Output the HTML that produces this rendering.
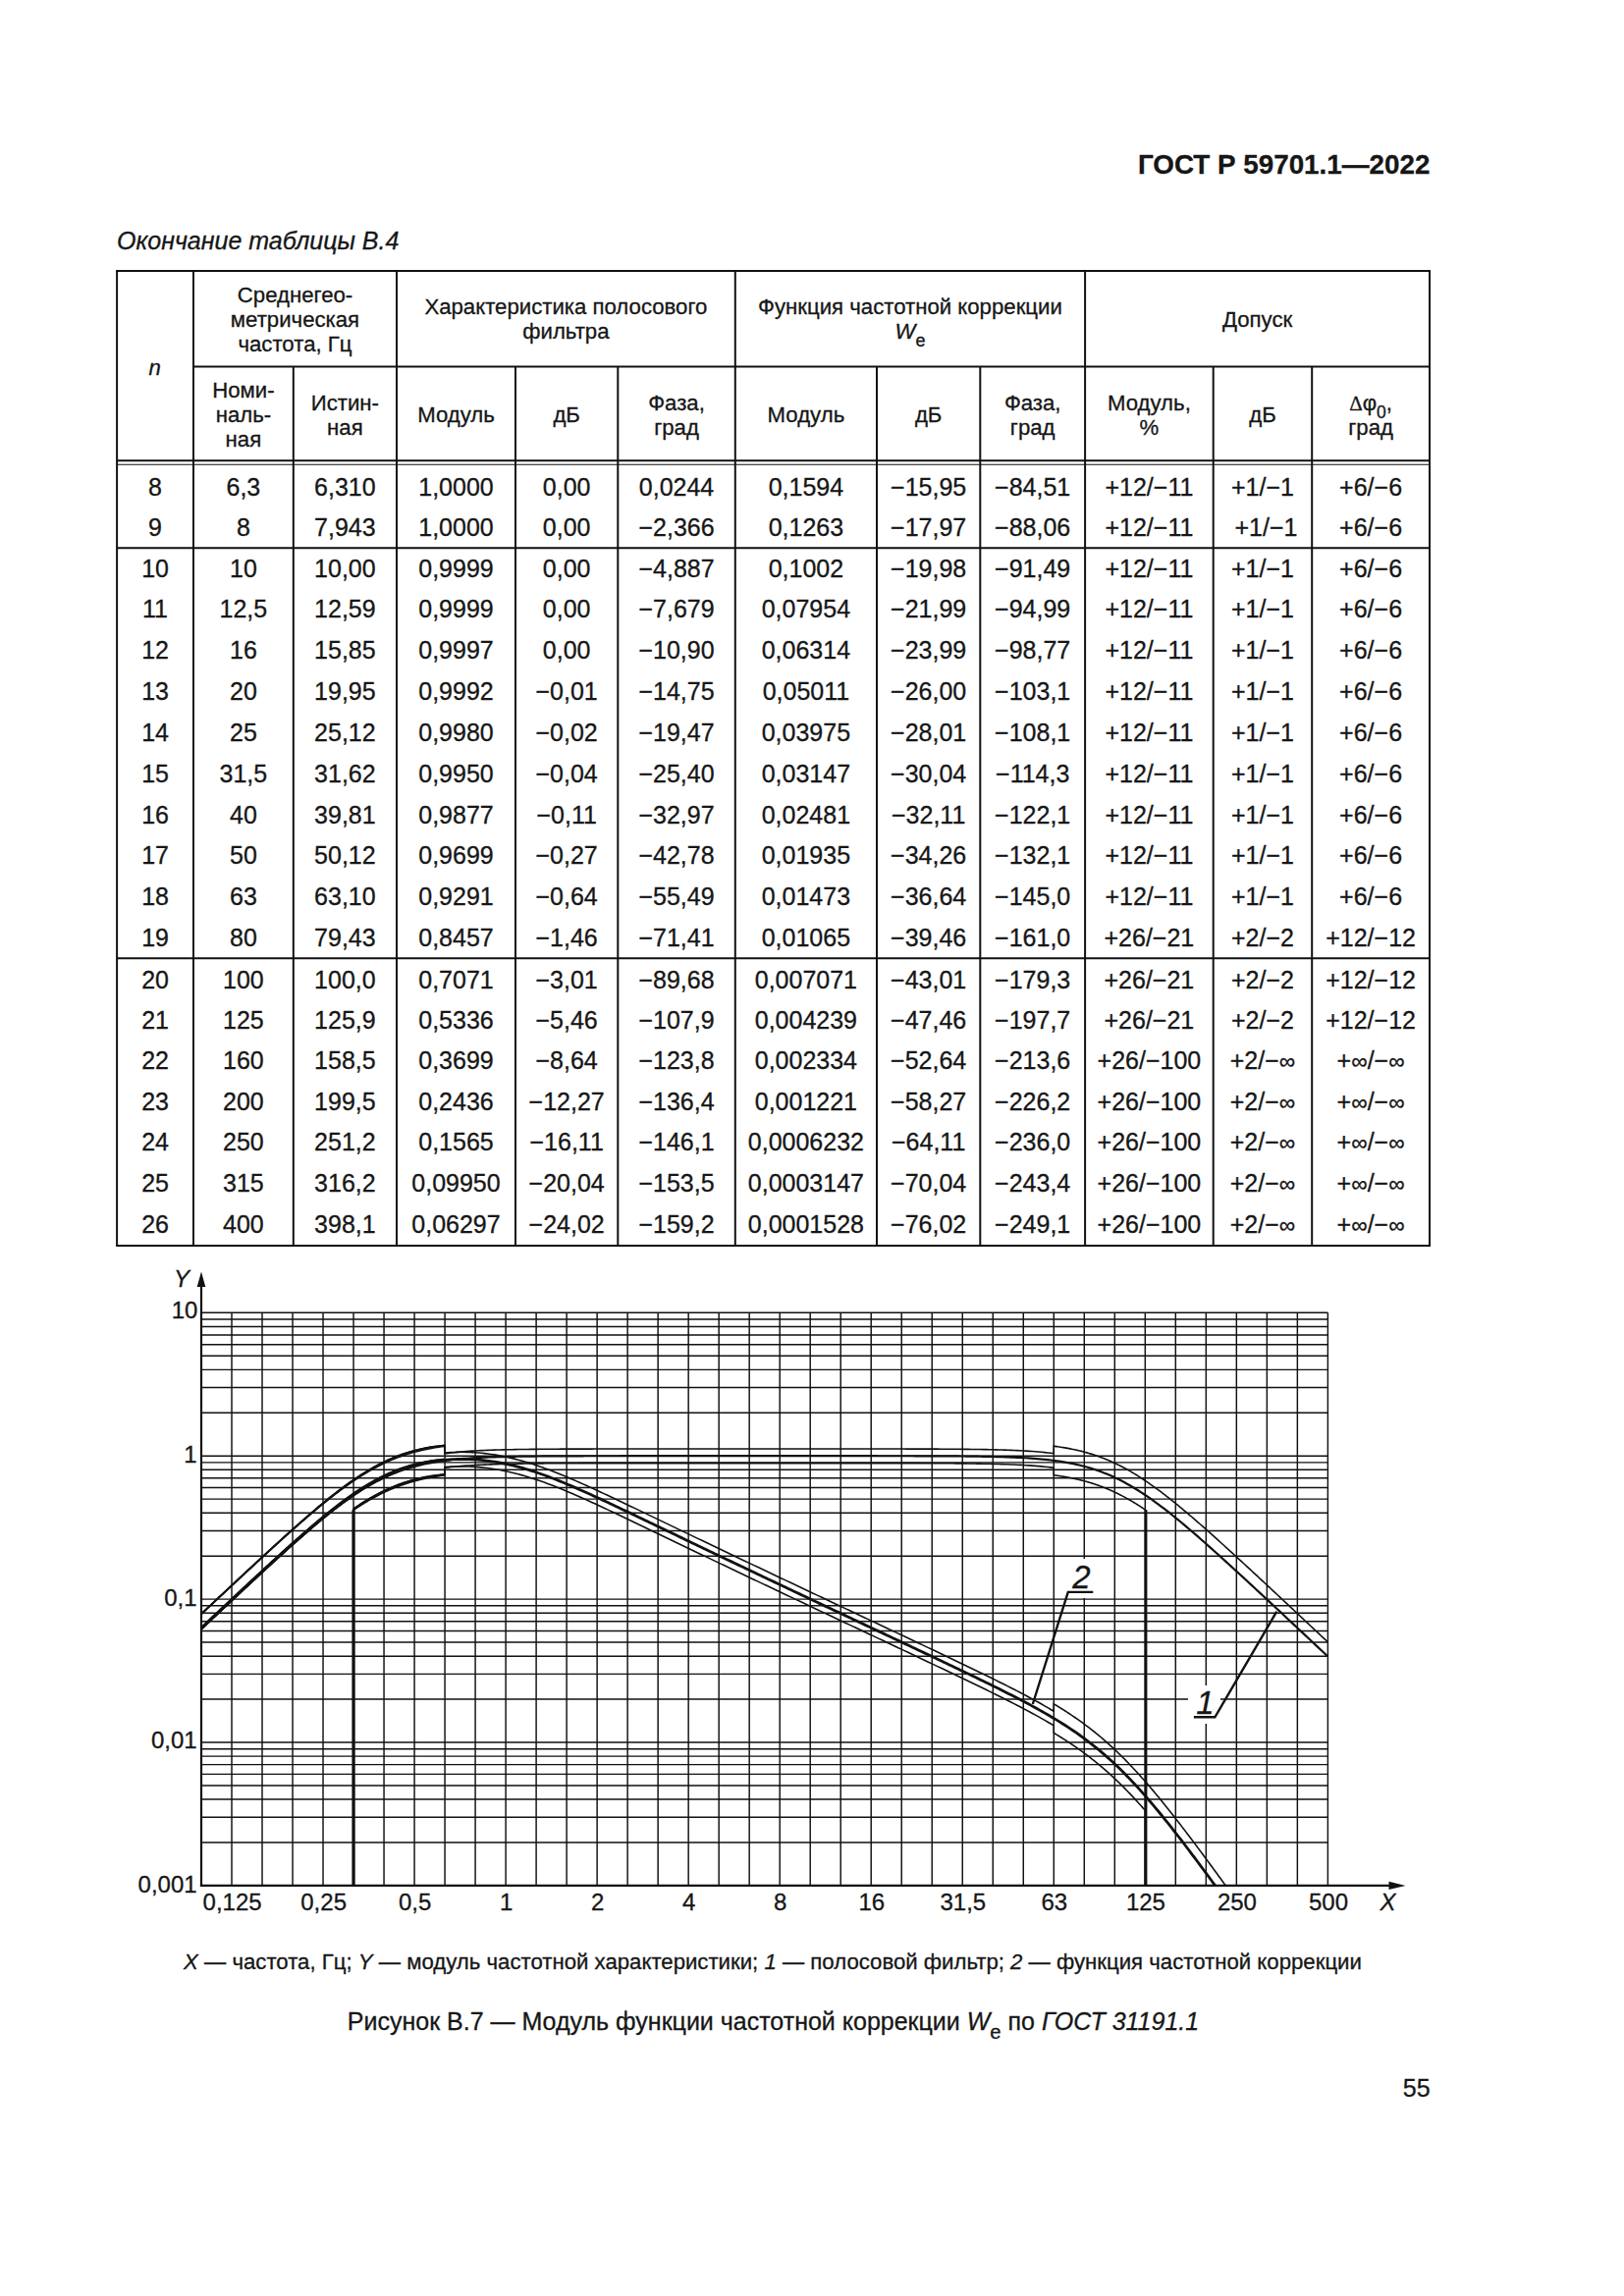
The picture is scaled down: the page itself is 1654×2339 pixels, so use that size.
<!DOCTYPE html>
<html lang="ru"><head><meta charset="utf-8"><title>ГОСТ Р 59701.1—2022</title>
<style>
html,body{margin:0;padding:0;background:#fff;}
body{width:1654px;height:2339px;overflow:hidden;position:relative;}
svg{position:absolute;left:0;top:0;display:block;}
text{font-family:'Liberation Sans', Arial, Helvetica, sans-serif;fill:#161616;stroke:#161616;stroke-width:0.3px;}
</style></head><body>
<svg width="1654" height="2339" viewBox="0 0 1654 2339">
<rect width="1654" height="2339" fill="#fff"/>
<g id="misc">
<text x="1456.40" y="177.40" font-size="27.8" text-anchor="end" font-weight="bold">ГОСТ Р 59701.1—2022</text>
<text x="119.00" y="253.60" font-size="25" text-anchor="start" font-style="italic">Окончание таблицы В.4</text>
<text x="787" y="2006.4" font-size="22.2" text-anchor="middle"><tspan font-style="italic">X</tspan> — частота, Гц; <tspan font-style="italic">Y</tspan> — модуль частотной характеристики; <tspan font-style="italic">1</tspan> — полосовой фильтр; <tspan font-style="italic">2</tspan> — функция частотной коррекции</text>
<text x="787.5" y="2068.2" font-size="25" text-anchor="middle">Рисунок В.7 — Модуль функции частотной коррекции <tspan font-style="italic">W</tspan><tspan font-size="20.3" dy="8.6">e</tspan><tspan dy="-8.6"> по </tspan><tspan font-style="italic">ГОСТ 31191.1</tspan></text>
<text x="1456.60" y="2136.40" font-size="25" text-anchor="end">55</text>
</g>
<g id="table-lines">
<line x1="118.10" y1="276.00" x2="1457.00" y2="276.00" stroke="#111" stroke-width="2.0"/>
<line x1="197.00" y1="373.60" x2="1456.00" y2="373.60" stroke="#111" stroke-width="2.0"/>
<line x1="119.10" y1="469.20" x2="1456.00" y2="469.20" stroke="#111" stroke-width="2.0"/>
<line x1="119.10" y1="473.20" x2="1456.00" y2="473.20" stroke="#111" stroke-width="1.1"/>
<line x1="119.10" y1="558.20" x2="1456.00" y2="558.20" stroke="#111" stroke-width="2.0"/>
<line x1="119.10" y1="976.30" x2="1456.00" y2="976.30" stroke="#111" stroke-width="2.0"/>
<line x1="118.10" y1="1269.00" x2="1457.00" y2="1269.00" stroke="#111" stroke-width="2.0"/>
<line x1="119.10" y1="276.00" x2="119.10" y2="1269.00" stroke="#111" stroke-width="2.0"/>
<line x1="197.00" y1="276.00" x2="197.00" y2="1269.00" stroke="#111" stroke-width="2.0"/>
<line x1="298.80" y1="373.60" x2="298.80" y2="1269.00" stroke="#111" stroke-width="2.0"/>
<line x1="404.00" y1="276.00" x2="404.00" y2="1269.00" stroke="#111" stroke-width="2.0"/>
<line x1="525.00" y1="373.60" x2="525.00" y2="1269.00" stroke="#111" stroke-width="2.0"/>
<line x1="629.30" y1="373.60" x2="629.30" y2="1269.00" stroke="#111" stroke-width="2.0"/>
<line x1="748.80" y1="276.00" x2="748.80" y2="1269.00" stroke="#111" stroke-width="2.0"/>
<line x1="893.00" y1="373.60" x2="893.00" y2="1269.00" stroke="#111" stroke-width="2.0"/>
<line x1="998.30" y1="373.60" x2="998.30" y2="1269.00" stroke="#111" stroke-width="2.0"/>
<line x1="1105.10" y1="276.00" x2="1105.10" y2="1269.00" stroke="#111" stroke-width="2.0"/>
<line x1="1235.70" y1="373.60" x2="1235.70" y2="1269.00" stroke="#111" stroke-width="2.0"/>
<line x1="1336.20" y1="373.60" x2="1336.20" y2="1269.00" stroke="#111" stroke-width="2.0"/>
<line x1="1456.00" y1="276.00" x2="1456.00" y2="1269.00" stroke="#111" stroke-width="2.0"/>
</g>
<g id="table-head">
<text x="157.55" y="381.60" font-size="22.2" text-anchor="middle" font-style="italic">n</text>
<text x="300.50" y="307.80" font-size="22.2" text-anchor="middle">Среднегео-</text>
<text x="300.50" y="332.80" font-size="22.2" text-anchor="middle">метрическая</text>
<text x="300.50" y="357.80" font-size="22.2" text-anchor="middle">частота, Гц</text>
<text x="576.40" y="320.40" font-size="22.2" text-anchor="middle">Характеристика полосового</text>
<text x="576.40" y="345.40" font-size="22.2" text-anchor="middle">фильтра</text>
<text x="926.95" y="320.40" font-size="22.2" text-anchor="middle">Функция частотной коррекции</text>
<text x="926.95" y="344.6" font-size="22.2" text-anchor="middle"><tspan font-style="italic">W</tspan><tspan font-size="18" dy="8.2">e</tspan></text>
<text x="1280.55" y="332.80" font-size="22.2" text-anchor="middle">Допуск</text>
<text x="247.90" y="404.60" font-size="22.2" text-anchor="middle">Номи-</text>
<text x="247.90" y="429.60" font-size="22.2" text-anchor="middle">наль-</text>
<text x="247.90" y="454.60" font-size="22.2" text-anchor="middle">ная</text>
<text x="351.40" y="417.60" font-size="22.2" text-anchor="middle">Истин-</text>
<text x="351.40" y="442.60" font-size="22.2" text-anchor="middle">ная</text>
<text x="464.50" y="430.00" font-size="22.2" text-anchor="middle">Модуль</text>
<text x="577.15" y="430.00" font-size="22.2" text-anchor="middle">дБ</text>
<text x="689.05" y="417.60" font-size="22.2" text-anchor="middle">Фаза,</text>
<text x="689.05" y="442.60" font-size="22.2" text-anchor="middle">град</text>
<text x="820.90" y="430.00" font-size="22.2" text-anchor="middle">Модуль</text>
<text x="945.65" y="430.00" font-size="22.2" text-anchor="middle">дБ</text>
<text x="1051.70" y="417.60" font-size="22.2" text-anchor="middle">Фаза,</text>
<text x="1051.70" y="442.60" font-size="22.2" text-anchor="middle">град</text>
<text x="1170.40" y="417.80" font-size="22.2" text-anchor="middle">Модуль,</text>
<text x="1170.40" y="443.20" font-size="22.2" text-anchor="middle">%</text>
<text x="1285.95" y="430.00" font-size="22.2" text-anchor="middle">дБ</text>
<text x="1396.10" y="417.8" font-size="22.2" text-anchor="middle"><tspan font-family="'Liberation Serif', 'DejaVu Serif', serif" font-size="21">Δ</tspan>φ<tspan font-size="17.5" dy="8">0</tspan><tspan dy="-8">,</tspan></text>
<text x="1396.10" y="443.00" font-size="22.2" text-anchor="middle">град</text>
</g>
<g id="table-body">
<text x="158.05" y="504.50" font-size="25" text-anchor="middle">8</text>
<text x="247.90" y="504.50" font-size="25" text-anchor="middle">6,3</text>
<text x="351.40" y="504.50" font-size="25" text-anchor="middle">6,310</text>
<text x="464.50" y="504.50" font-size="25" text-anchor="middle">1,0000</text>
<text x="577.15" y="504.50" font-size="25" text-anchor="middle">0,00</text>
<text x="689.05" y="504.50" font-size="25" text-anchor="middle">0,0244</text>
<text x="820.90" y="504.50" font-size="25" text-anchor="middle">0,1594</text>
<text x="945.65" y="504.50" font-size="25" text-anchor="middle">−15,95</text>
<text x="1051.70" y="504.50" font-size="25" text-anchor="middle">−84,51</text>
<text x="1170.40" y="504.50" font-size="25" text-anchor="middle">+12/−11</text>
<text x="1285.95" y="504.50" font-size="25" text-anchor="middle">+1/−1</text>
<text x="1396.10" y="504.50" font-size="25" text-anchor="middle">+6/−6</text>
<text x="158.05" y="546.17" font-size="25" text-anchor="middle">9</text>
<text x="247.90" y="546.17" font-size="25" text-anchor="middle">8</text>
<text x="351.40" y="546.17" font-size="25" text-anchor="middle">7,943</text>
<text x="464.50" y="546.17" font-size="25" text-anchor="middle">1,0000</text>
<text x="577.15" y="546.17" font-size="25" text-anchor="middle">0,00</text>
<text x="689.05" y="546.17" font-size="25" text-anchor="middle">−2,366</text>
<text x="820.90" y="546.17" font-size="25" text-anchor="middle">0,1263</text>
<text x="945.65" y="546.17" font-size="25" text-anchor="middle">−17,97</text>
<text x="1051.70" y="546.17" font-size="25" text-anchor="middle">−88,06</text>
<text x="1170.40" y="546.17" font-size="25" text-anchor="middle">+12/−11</text>
<text x="1289.45" y="546.17" font-size="25" text-anchor="middle">+1/−1</text>
<text x="1396.10" y="546.17" font-size="25" text-anchor="middle">+6/−6</text>
<text x="158.05" y="587.50" font-size="25" text-anchor="middle">10</text>
<text x="247.90" y="587.50" font-size="25" text-anchor="middle">10</text>
<text x="351.40" y="587.50" font-size="25" text-anchor="middle">10,00</text>
<text x="464.50" y="587.50" font-size="25" text-anchor="middle">0,9999</text>
<text x="577.15" y="587.50" font-size="25" text-anchor="middle">0,00</text>
<text x="689.05" y="587.50" font-size="25" text-anchor="middle">−4,887</text>
<text x="820.90" y="587.50" font-size="25" text-anchor="middle">0,1002</text>
<text x="945.65" y="587.50" font-size="25" text-anchor="middle">−19,98</text>
<text x="1051.70" y="587.50" font-size="25" text-anchor="middle">−91,49</text>
<text x="1170.40" y="587.50" font-size="25" text-anchor="middle">+12/−11</text>
<text x="1285.95" y="587.50" font-size="25" text-anchor="middle">+1/−1</text>
<text x="1396.10" y="587.50" font-size="25" text-anchor="middle">+6/−6</text>
<text x="158.05" y="629.17" font-size="25" text-anchor="middle">11</text>
<text x="247.90" y="629.17" font-size="25" text-anchor="middle">12,5</text>
<text x="351.40" y="629.17" font-size="25" text-anchor="middle">12,59</text>
<text x="464.50" y="629.17" font-size="25" text-anchor="middle">0,9999</text>
<text x="577.15" y="629.17" font-size="25" text-anchor="middle">0,00</text>
<text x="689.05" y="629.17" font-size="25" text-anchor="middle">−7,679</text>
<text x="820.90" y="629.17" font-size="25" text-anchor="middle">0,07954</text>
<text x="945.65" y="629.17" font-size="25" text-anchor="middle">−21,99</text>
<text x="1051.70" y="629.17" font-size="25" text-anchor="middle">−94,99</text>
<text x="1170.40" y="629.17" font-size="25" text-anchor="middle">+12/−11</text>
<text x="1285.95" y="629.17" font-size="25" text-anchor="middle">+1/−1</text>
<text x="1396.10" y="629.17" font-size="25" text-anchor="middle">+6/−6</text>
<text x="158.05" y="670.84" font-size="25" text-anchor="middle">12</text>
<text x="247.90" y="670.84" font-size="25" text-anchor="middle">16</text>
<text x="351.40" y="670.84" font-size="25" text-anchor="middle">15,85</text>
<text x="464.50" y="670.84" font-size="25" text-anchor="middle">0,9997</text>
<text x="577.15" y="670.84" font-size="25" text-anchor="middle">0,00</text>
<text x="689.05" y="670.84" font-size="25" text-anchor="middle">−10,90</text>
<text x="820.90" y="670.84" font-size="25" text-anchor="middle">0,06314</text>
<text x="945.65" y="670.84" font-size="25" text-anchor="middle">−23,99</text>
<text x="1051.70" y="670.84" font-size="25" text-anchor="middle">−98,77</text>
<text x="1170.40" y="670.84" font-size="25" text-anchor="middle">+12/−11</text>
<text x="1285.95" y="670.84" font-size="25" text-anchor="middle">+1/−1</text>
<text x="1396.10" y="670.84" font-size="25" text-anchor="middle">+6/−6</text>
<text x="158.05" y="712.71" font-size="25" text-anchor="middle">13</text>
<text x="247.90" y="712.71" font-size="25" text-anchor="middle">20</text>
<text x="351.40" y="712.71" font-size="25" text-anchor="middle">19,95</text>
<text x="464.50" y="712.71" font-size="25" text-anchor="middle">0,9992</text>
<text x="577.15" y="712.71" font-size="25" text-anchor="middle">−0,01</text>
<text x="689.05" y="712.71" font-size="25" text-anchor="middle">−14,75</text>
<text x="820.90" y="712.71" font-size="25" text-anchor="middle">0,05011</text>
<text x="945.65" y="712.71" font-size="25" text-anchor="middle">−26,00</text>
<text x="1051.70" y="712.71" font-size="25" text-anchor="middle">−103,1</text>
<text x="1170.40" y="712.71" font-size="25" text-anchor="middle">+12/−11</text>
<text x="1285.95" y="712.71" font-size="25" text-anchor="middle">+1/−1</text>
<text x="1396.10" y="712.71" font-size="25" text-anchor="middle">+6/−6</text>
<text x="158.05" y="755.18" font-size="25" text-anchor="middle">14</text>
<text x="247.90" y="755.18" font-size="25" text-anchor="middle">25</text>
<text x="351.40" y="755.18" font-size="25" text-anchor="middle">25,12</text>
<text x="464.50" y="755.18" font-size="25" text-anchor="middle">0,9980</text>
<text x="577.15" y="755.18" font-size="25" text-anchor="middle">−0,02</text>
<text x="689.05" y="755.18" font-size="25" text-anchor="middle">−19,47</text>
<text x="820.90" y="755.18" font-size="25" text-anchor="middle">0,03975</text>
<text x="945.65" y="755.18" font-size="25" text-anchor="middle">−28,01</text>
<text x="1051.70" y="755.18" font-size="25" text-anchor="middle">−108,1</text>
<text x="1170.40" y="755.18" font-size="25" text-anchor="middle">+12/−11</text>
<text x="1285.95" y="755.18" font-size="25" text-anchor="middle">+1/−1</text>
<text x="1396.10" y="755.18" font-size="25" text-anchor="middle">+6/−6</text>
<text x="158.05" y="796.85" font-size="25" text-anchor="middle">15</text>
<text x="247.90" y="796.85" font-size="25" text-anchor="middle">31,5</text>
<text x="351.40" y="796.85" font-size="25" text-anchor="middle">31,62</text>
<text x="464.50" y="796.85" font-size="25" text-anchor="middle">0,9950</text>
<text x="577.15" y="796.85" font-size="25" text-anchor="middle">−0,04</text>
<text x="689.05" y="796.85" font-size="25" text-anchor="middle">−25,40</text>
<text x="820.90" y="796.85" font-size="25" text-anchor="middle">0,03147</text>
<text x="945.65" y="796.85" font-size="25" text-anchor="middle">−30,04</text>
<text x="1051.70" y="796.85" font-size="25" text-anchor="middle">−114,3</text>
<text x="1170.40" y="796.85" font-size="25" text-anchor="middle">+12/−11</text>
<text x="1285.95" y="796.85" font-size="25" text-anchor="middle">+1/−1</text>
<text x="1396.10" y="796.85" font-size="25" text-anchor="middle">+6/−6</text>
<text x="158.05" y="838.52" font-size="25" text-anchor="middle">16</text>
<text x="247.90" y="838.52" font-size="25" text-anchor="middle">40</text>
<text x="351.40" y="838.52" font-size="25" text-anchor="middle">39,81</text>
<text x="464.50" y="838.52" font-size="25" text-anchor="middle">0,9877</text>
<text x="577.15" y="838.52" font-size="25" text-anchor="middle">−0,11</text>
<text x="689.05" y="838.52" font-size="25" text-anchor="middle">−32,97</text>
<text x="820.90" y="838.52" font-size="25" text-anchor="middle">0,02481</text>
<text x="945.65" y="838.52" font-size="25" text-anchor="middle">−32,11</text>
<text x="1051.70" y="838.52" font-size="25" text-anchor="middle">−122,1</text>
<text x="1170.40" y="838.52" font-size="25" text-anchor="middle">+12/−11</text>
<text x="1285.95" y="838.52" font-size="25" text-anchor="middle">+1/−1</text>
<text x="1396.10" y="838.52" font-size="25" text-anchor="middle">+6/−6</text>
<text x="158.05" y="880.19" font-size="25" text-anchor="middle">17</text>
<text x="247.90" y="880.19" font-size="25" text-anchor="middle">50</text>
<text x="351.40" y="880.19" font-size="25" text-anchor="middle">50,12</text>
<text x="464.50" y="880.19" font-size="25" text-anchor="middle">0,9699</text>
<text x="577.15" y="880.19" font-size="25" text-anchor="middle">−0,27</text>
<text x="689.05" y="880.19" font-size="25" text-anchor="middle">−42,78</text>
<text x="820.90" y="880.19" font-size="25" text-anchor="middle">0,01935</text>
<text x="945.65" y="880.19" font-size="25" text-anchor="middle">−34,26</text>
<text x="1051.70" y="880.19" font-size="25" text-anchor="middle">−132,1</text>
<text x="1170.40" y="880.19" font-size="25" text-anchor="middle">+12/−11</text>
<text x="1285.95" y="880.19" font-size="25" text-anchor="middle">+1/−1</text>
<text x="1396.10" y="880.19" font-size="25" text-anchor="middle">+6/−6</text>
<text x="158.05" y="921.86" font-size="25" text-anchor="middle">18</text>
<text x="247.90" y="921.86" font-size="25" text-anchor="middle">63</text>
<text x="351.40" y="921.86" font-size="25" text-anchor="middle">63,10</text>
<text x="464.50" y="921.86" font-size="25" text-anchor="middle">0,9291</text>
<text x="577.15" y="921.86" font-size="25" text-anchor="middle">−0,64</text>
<text x="689.05" y="921.86" font-size="25" text-anchor="middle">−55,49</text>
<text x="820.90" y="921.86" font-size="25" text-anchor="middle">0,01473</text>
<text x="945.65" y="921.86" font-size="25" text-anchor="middle">−36,64</text>
<text x="1051.70" y="921.86" font-size="25" text-anchor="middle">−145,0</text>
<text x="1170.40" y="921.86" font-size="25" text-anchor="middle">+12/−11</text>
<text x="1285.95" y="921.86" font-size="25" text-anchor="middle">+1/−1</text>
<text x="1396.10" y="921.86" font-size="25" text-anchor="middle">+6/−6</text>
<text x="158.05" y="963.53" font-size="25" text-anchor="middle">19</text>
<text x="247.90" y="963.53" font-size="25" text-anchor="middle">80</text>
<text x="351.40" y="963.53" font-size="25" text-anchor="middle">79,43</text>
<text x="464.50" y="963.53" font-size="25" text-anchor="middle">0,8457</text>
<text x="577.15" y="963.53" font-size="25" text-anchor="middle">−1,46</text>
<text x="689.05" y="963.53" font-size="25" text-anchor="middle">−71,41</text>
<text x="820.90" y="963.53" font-size="25" text-anchor="middle">0,01065</text>
<text x="945.65" y="963.53" font-size="25" text-anchor="middle">−39,46</text>
<text x="1051.70" y="963.53" font-size="25" text-anchor="middle">−161,0</text>
<text x="1170.40" y="963.53" font-size="25" text-anchor="middle">+26/−21</text>
<text x="1285.95" y="963.53" font-size="25" text-anchor="middle">+2/−2</text>
<text x="1396.10" y="963.53" font-size="25" text-anchor="middle">+12/−12</text>
<text x="158.05" y="1006.60" font-size="25" text-anchor="middle">20</text>
<text x="247.90" y="1006.60" font-size="25" text-anchor="middle">100</text>
<text x="351.40" y="1006.60" font-size="25" text-anchor="middle">100,0</text>
<text x="464.50" y="1006.60" font-size="25" text-anchor="middle">0,7071</text>
<text x="577.15" y="1006.60" font-size="25" text-anchor="middle">−3,01</text>
<text x="689.05" y="1006.60" font-size="25" text-anchor="middle">−89,68</text>
<text x="820.90" y="1006.60" font-size="25" text-anchor="middle">0,007071</text>
<text x="945.65" y="1006.60" font-size="25" text-anchor="middle">−43,01</text>
<text x="1051.70" y="1006.60" font-size="25" text-anchor="middle">−179,3</text>
<text x="1170.40" y="1006.60" font-size="25" text-anchor="middle">+26/−21</text>
<text x="1285.95" y="1006.60" font-size="25" text-anchor="middle">+2/−2</text>
<text x="1396.10" y="1006.60" font-size="25" text-anchor="middle">+12/−12</text>
<text x="158.05" y="1048.27" font-size="25" text-anchor="middle">21</text>
<text x="247.90" y="1048.27" font-size="25" text-anchor="middle">125</text>
<text x="351.40" y="1048.27" font-size="25" text-anchor="middle">125,9</text>
<text x="464.50" y="1048.27" font-size="25" text-anchor="middle">0,5336</text>
<text x="577.15" y="1048.27" font-size="25" text-anchor="middle">−5,46</text>
<text x="689.05" y="1048.27" font-size="25" text-anchor="middle">−107,9</text>
<text x="820.90" y="1048.27" font-size="25" text-anchor="middle">0,004239</text>
<text x="945.65" y="1048.27" font-size="25" text-anchor="middle">−47,46</text>
<text x="1051.70" y="1048.27" font-size="25" text-anchor="middle">−197,7</text>
<text x="1170.40" y="1048.27" font-size="25" text-anchor="middle">+26/−21</text>
<text x="1285.95" y="1048.27" font-size="25" text-anchor="middle">+2/−2</text>
<text x="1396.10" y="1048.27" font-size="25" text-anchor="middle">+12/−12</text>
<text x="158.05" y="1089.14" font-size="25" text-anchor="middle">22</text>
<text x="247.90" y="1089.14" font-size="25" text-anchor="middle">160</text>
<text x="351.40" y="1089.14" font-size="25" text-anchor="middle">158,5</text>
<text x="464.50" y="1089.14" font-size="25" text-anchor="middle">0,3699</text>
<text x="577.15" y="1089.14" font-size="25" text-anchor="middle">−8,64</text>
<text x="689.05" y="1089.14" font-size="25" text-anchor="middle">−123,8</text>
<text x="820.90" y="1089.14" font-size="25" text-anchor="middle">0,002334</text>
<text x="945.65" y="1089.14" font-size="25" text-anchor="middle">−52,64</text>
<text x="1051.70" y="1089.14" font-size="25" text-anchor="middle">−213,6</text>
<text x="1170.40" y="1089.14" font-size="25" text-anchor="middle">+26/−100</text>
<text x="1285.95" y="1089.14" font-size="25" text-anchor="middle">+2/−<tspan font-size="23">∞</tspan></text>
<text x="1396.10" y="1089.14" font-size="25" text-anchor="middle">+<tspan font-size="23">∞</tspan>/−<tspan font-size="23">∞</tspan></text>
<text x="158.05" y="1130.81" font-size="25" text-anchor="middle">23</text>
<text x="247.90" y="1130.81" font-size="25" text-anchor="middle">200</text>
<text x="351.40" y="1130.81" font-size="25" text-anchor="middle">199,5</text>
<text x="464.50" y="1130.81" font-size="25" text-anchor="middle">0,2436</text>
<text x="577.15" y="1130.81" font-size="25" text-anchor="middle">−12,27</text>
<text x="689.05" y="1130.81" font-size="25" text-anchor="middle">−136,4</text>
<text x="820.90" y="1130.81" font-size="25" text-anchor="middle">0,001221</text>
<text x="945.65" y="1130.81" font-size="25" text-anchor="middle">−58,27</text>
<text x="1051.70" y="1130.81" font-size="25" text-anchor="middle">−226,2</text>
<text x="1170.40" y="1130.81" font-size="25" text-anchor="middle">+26/−100</text>
<text x="1285.95" y="1130.81" font-size="25" text-anchor="middle">+2/−<tspan font-size="23">∞</tspan></text>
<text x="1396.10" y="1130.81" font-size="25" text-anchor="middle">+<tspan font-size="23">∞</tspan>/−<tspan font-size="23">∞</tspan></text>
<text x="158.05" y="1172.48" font-size="25" text-anchor="middle">24</text>
<text x="247.90" y="1172.48" font-size="25" text-anchor="middle">250</text>
<text x="351.40" y="1172.48" font-size="25" text-anchor="middle">251,2</text>
<text x="464.50" y="1172.48" font-size="25" text-anchor="middle">0,1565</text>
<text x="577.15" y="1172.48" font-size="25" text-anchor="middle">−16,11</text>
<text x="689.05" y="1172.48" font-size="25" text-anchor="middle">−146,1</text>
<text x="820.90" y="1172.48" font-size="25" text-anchor="middle">0,0006232</text>
<text x="945.65" y="1172.48" font-size="25" text-anchor="middle">−64,11</text>
<text x="1051.70" y="1172.48" font-size="25" text-anchor="middle">−236,0</text>
<text x="1170.40" y="1172.48" font-size="25" text-anchor="middle">+26/−100</text>
<text x="1285.95" y="1172.48" font-size="25" text-anchor="middle">+2/−<tspan font-size="23">∞</tspan></text>
<text x="1396.10" y="1172.48" font-size="25" text-anchor="middle">+<tspan font-size="23">∞</tspan>/−<tspan font-size="23">∞</tspan></text>
<text x="158.05" y="1214.15" font-size="25" text-anchor="middle">25</text>
<text x="247.90" y="1214.15" font-size="25" text-anchor="middle">315</text>
<text x="351.40" y="1214.15" font-size="25" text-anchor="middle">316,2</text>
<text x="464.50" y="1214.15" font-size="25" text-anchor="middle">0,09950</text>
<text x="577.15" y="1214.15" font-size="25" text-anchor="middle">−20,04</text>
<text x="689.05" y="1214.15" font-size="25" text-anchor="middle">−153,5</text>
<text x="820.90" y="1214.15" font-size="25" text-anchor="middle">0,0003147</text>
<text x="945.65" y="1214.15" font-size="25" text-anchor="middle">−70,04</text>
<text x="1051.70" y="1214.15" font-size="25" text-anchor="middle">−243,4</text>
<text x="1170.40" y="1214.15" font-size="25" text-anchor="middle">+26/−100</text>
<text x="1285.95" y="1214.15" font-size="25" text-anchor="middle">+2/−<tspan font-size="23">∞</tspan></text>
<text x="1396.10" y="1214.15" font-size="25" text-anchor="middle">+<tspan font-size="23">∞</tspan>/−<tspan font-size="23">∞</tspan></text>
<text x="158.05" y="1255.82" font-size="25" text-anchor="middle">26</text>
<text x="247.90" y="1255.82" font-size="25" text-anchor="middle">400</text>
<text x="351.40" y="1255.82" font-size="25" text-anchor="middle">398,1</text>
<text x="464.50" y="1255.82" font-size="25" text-anchor="middle">0,06297</text>
<text x="577.15" y="1255.82" font-size="25" text-anchor="middle">−24,02</text>
<text x="689.05" y="1255.82" font-size="25" text-anchor="middle">−159,2</text>
<text x="820.90" y="1255.82" font-size="25" text-anchor="middle">0,0001528</text>
<text x="945.65" y="1255.82" font-size="25" text-anchor="middle">−76,02</text>
<text x="1051.70" y="1255.82" font-size="25" text-anchor="middle">−249,1</text>
<text x="1170.40" y="1255.82" font-size="25" text-anchor="middle">+26/−100</text>
<text x="1285.95" y="1255.82" font-size="25" text-anchor="middle">+2/−<tspan font-size="23">∞</tspan></text>
<text x="1396.10" y="1255.82" font-size="25" text-anchor="middle">+<tspan font-size="23">∞</tspan>/−<tspan font-size="23">∞</tspan></text>
</g>
<g id="chart">
<path d="M236.01 1337.30V1920.90M267.02 1337.30V1920.90M298.03 1337.30V1920.90M329.04 1337.30V1920.90M360.05 1337.30V1920.90M391.06 1337.30V1920.90M422.07 1337.30V1920.90M453.08 1337.30V1920.90M484.09 1337.30V1920.90M515.10 1337.30V1920.90M546.11 1337.30V1920.90M577.12 1337.30V1920.90M608.13 1337.30V1920.90M639.14 1337.30V1920.90M670.15 1337.30V1920.90M701.16 1337.30V1920.90M732.17 1337.30V1920.90M763.18 1337.30V1920.90M794.19 1337.30V1920.90M825.20 1337.30V1920.90M856.21 1337.30V1920.90M887.22 1337.30V1920.90M918.23 1337.30V1920.90M949.24 1337.30V1920.90M980.25 1337.30V1920.90M1011.26 1337.30V1920.90M1042.27 1337.30V1920.90M1073.28 1337.30V1920.90M1104.29 1337.30V1920.90M1135.30 1337.30V1920.90M1166.31 1337.30V1920.90M1197.32 1337.30V1920.90M1228.33 1337.30V1920.90M1259.34 1337.30V1920.90M1290.35 1337.30V1920.90M1321.36 1337.30V1920.90M1352.37 1337.30V1920.90M205.00 1876.98H1352.37M205.00 1851.29H1352.37M205.00 1833.06H1352.37M205.00 1818.92H1352.37M205.00 1807.37H1352.37M205.00 1797.60H1352.37M205.00 1789.14H1352.37M205.00 1781.68H1352.37M205.00 1775.00H1352.37M205.00 1731.08H1352.37M205.00 1705.39H1352.37M205.00 1687.16H1352.37M205.00 1673.02H1352.37M205.00 1661.47H1352.37M205.00 1651.70H1352.37M205.00 1643.24H1352.37M205.00 1635.78H1352.37M205.00 1629.10H1352.37M205.00 1585.18H1352.37M205.00 1559.49H1352.37M205.00 1541.26H1352.37M205.00 1527.12H1352.37M205.00 1515.57H1352.37M205.00 1505.80H1352.37M205.00 1497.34H1352.37M205.00 1489.88H1352.37M205.00 1483.20H1352.37M205.00 1439.28H1352.37M205.00 1413.59H1352.37M205.00 1395.36H1352.37M205.00 1381.22H1352.37M205.00 1369.67H1352.37M205.00 1359.90H1352.37M205.00 1351.44H1352.37M205.00 1343.98H1352.37M205.00 1337.30H1352.37" stroke="#111" stroke-width="1.45" fill="none"/>
<line x1="205.00" y1="1308.00" x2="205.00" y2="1922.00" stroke="#111" stroke-width="2.2"/>
<line x1="203.90" y1="1920.90" x2="1416.00" y2="1920.90" stroke="#111" stroke-width="2.4"/>
<path d="M205.00 1295.5L200.70 1311L209.30 1311Z" fill="#111"/>
<path d="M1431.5 1920.90L1414.5 1916.80L1414.5 1925.00Z" fill="#111"/>
<clipPath id="cp"><rect x="203.0" y="1335.3" width="1151.3700000000001" height="585.6000000000001"/></clipPath>
<g clip-path="url(#cp)"><polyline points="205.00,1659.00 207.87,1656.31 210.75,1653.62 213.62,1650.93 216.50,1648.23 219.37,1645.54 222.25,1642.86 225.12,1640.17 228.00,1637.48 230.87,1634.80 233.75,1632.12 236.62,1629.44 239.50,1626.76 242.37,1624.09 245.25,1621.42 248.12,1618.75 251.00,1616.08 253.87,1613.42 256.75,1610.76 259.62,1608.10 262.50,1605.45 265.37,1602.81 268.25,1600.17 271.12,1597.53 274.00,1594.90 276.87,1592.28 279.75,1589.67 282.62,1587.06 285.49,1584.46 288.37,1581.87 291.24,1579.29 294.12,1576.72 296.99,1574.16 299.87,1571.62 302.74,1569.09 305.62,1566.57 308.49,1564.06 311.37,1561.58 314.24,1559.11 317.12,1556.66 319.99,1554.23 322.87,1551.83 325.74,1549.44 328.62,1547.09 331.49,1544.75 334.37,1542.45 337.24,1540.18 340.12,1537.94 342.99,1535.73 345.87,1533.56 348.74,1531.42 351.62,1529.33 354.49,1527.28 357.37,1525.27 360.24,1523.30 363.11,1521.38 365.99,1519.51 368.86,1517.69 371.74,1515.92 374.61,1514.21 377.49,1512.55 380.36,1510.94 383.24,1509.39 386.11,1507.90 388.99,1506.46 391.86,1505.08 394.74,1503.76 397.61,1502.50 400.49,1501.29 403.36,1500.15 406.24,1499.05 409.11,1498.02 411.99,1497.03 414.86,1496.10 417.74,1495.22 420.61,1494.39 423.49,1493.61 426.36,1492.88 429.24,1492.19 432.11,1491.54 434.99,1490.93 437.86,1490.37 440.73,1489.84 443.61,1489.34 446.48,1488.88 449.36,1488.45 452.23,1488.06 455.11,1487.69 457.98,1487.34 460.86,1487.02 463.73,1486.73 466.61,1486.45 469.48,1486.20 472.36,1485.96 475.23,1485.75 478.11,1485.54 480.98,1485.36 483.86,1485.19 486.73,1485.03 489.61,1484.88 492.48,1484.75 495.36,1484.63 498.23,1484.51 501.11,1484.41 503.98,1484.31 506.86,1484.22 509.73,1484.14 512.61,1484.06 515.48,1483.99 518.35,1483.93 521.23,1483.87 524.10,1483.81 526.98,1483.76 529.85,1483.72 532.73,1483.68 535.60,1483.64 538.48,1483.60 541.35,1483.57 544.23,1483.54 547.10,1483.51 549.98,1483.49 552.85,1483.46 555.73,1483.44 558.60,1483.42 561.48,1483.40 564.35,1483.39 567.23,1483.37 570.10,1483.36 572.98,1483.35 575.85,1483.33 578.73,1483.32 581.60,1483.31 584.48,1483.30 587.35,1483.29 590.23,1483.29 593.10,1483.28 595.97,1483.27 598.85,1483.27 601.72,1483.26 604.60,1483.26 607.47,1483.25 610.35,1483.25 613.22,1483.24 616.10,1483.24 618.97,1483.24 621.85,1483.23 624.72,1483.23 627.60,1483.23 630.47,1483.23 633.35,1483.22 636.22,1483.22 639.10,1483.22 641.97,1483.22 644.85,1483.22 647.72,1483.22 650.60,1483.21 653.47,1483.21 656.35,1483.21 659.22,1483.21 662.10,1483.21 664.97,1483.21 667.84,1483.21 670.72,1483.21 673.59,1483.21 676.47,1483.21 679.34,1483.21 682.22,1483.21 685.09,1483.21 687.97,1483.20 690.84,1483.20 693.72,1483.20 696.59,1483.20 699.47,1483.20 702.34,1483.20 705.22,1483.20 708.09,1483.20 710.97,1483.20 713.84,1483.20 716.72,1483.20 719.59,1483.20 722.47,1483.20 725.34,1483.20 728.22,1483.20 731.09,1483.20 733.97,1483.20 736.84,1483.20 739.72,1483.20 742.59,1483.20 745.46,1483.20 748.34,1483.20 751.21,1483.20 754.09,1483.20 756.96,1483.20 759.84,1483.20 762.71,1483.20 765.59,1483.20 768.46,1483.20 771.34,1483.20 774.21,1483.20 777.09,1483.20 779.96,1483.20 782.84,1483.20 785.71,1483.20 788.59,1483.20 791.46,1483.20 794.34,1483.20 797.21,1483.20 800.09,1483.20 802.96,1483.20 805.84,1483.20 808.71,1483.20 811.59,1483.20 814.46,1483.20 817.34,1483.20 820.21,1483.20 823.08,1483.20 825.96,1483.20 828.83,1483.20 831.71,1483.20 834.58,1483.20 837.46,1483.20 840.33,1483.21 843.21,1483.21 846.08,1483.21 848.96,1483.21 851.83,1483.21 854.71,1483.21 857.58,1483.21 860.46,1483.21 863.33,1483.21 866.21,1483.21 869.08,1483.21 871.96,1483.21 874.83,1483.21 877.71,1483.22 880.58,1483.22 883.46,1483.22 886.33,1483.22 889.21,1483.22 892.08,1483.22 894.96,1483.23 897.83,1483.23 900.70,1483.23 903.58,1483.23 906.45,1483.24 909.33,1483.24 912.20,1483.24 915.08,1483.25 917.95,1483.25 920.83,1483.25 923.70,1483.26 926.58,1483.26 929.45,1483.27 932.33,1483.28 935.20,1483.28 938.08,1483.29 940.95,1483.30 943.83,1483.31 946.70,1483.32 949.58,1483.33 952.45,1483.34 955.33,1483.35 958.20,1483.36 961.08,1483.38 963.95,1483.39 966.83,1483.41 969.70,1483.43 972.58,1483.45 975.45,1483.47 978.32,1483.50 981.20,1483.52 984.07,1483.55 986.95,1483.58 989.82,1483.62 992.70,1483.66 995.57,1483.70 998.45,1483.74 1001.32,1483.79 1004.20,1483.84 1007.07,1483.90 1009.95,1483.96 1012.82,1484.02 1015.70,1484.10 1018.57,1484.17 1021.45,1484.26 1024.32,1484.35 1027.20,1484.45 1030.07,1484.56 1032.95,1484.68 1035.82,1484.81 1038.70,1484.95 1041.57,1485.10 1044.45,1485.26 1047.32,1485.44 1050.20,1485.63 1053.07,1485.84 1055.94,1486.07 1058.82,1486.31 1061.69,1486.57 1064.57,1486.86 1067.44,1487.16 1070.32,1487.49 1073.19,1487.85 1076.07,1488.23 1078.94,1488.65 1081.82,1489.09 1084.69,1489.56 1087.57,1490.07 1090.44,1490.62 1093.32,1491.20 1096.19,1491.83 1099.07,1492.49 1101.94,1493.20 1104.82,1493.96 1107.69,1494.76 1110.57,1495.61 1113.44,1496.52 1116.32,1497.47 1119.19,1498.48 1122.07,1499.54 1124.94,1500.66 1127.82,1501.83 1130.69,1503.07 1133.56,1504.35 1136.44,1505.70 1139.31,1507.11 1142.19,1508.57 1145.06,1510.09 1147.94,1511.66 1150.81,1513.29 1153.69,1514.98 1156.56,1516.72 1159.44,1518.51 1162.31,1520.35 1165.19,1522.25 1168.06,1524.19 1170.94,1526.17 1173.81,1528.20 1176.69,1530.27 1179.56,1532.39 1182.44,1534.54 1185.31,1536.73 1188.19,1538.95 1191.06,1541.20 1193.94,1543.49 1196.81,1545.81 1199.69,1548.15 1202.56,1550.52 1205.44,1552.91 1208.31,1555.33 1211.18,1557.77 1214.06,1560.23 1216.93,1562.70 1219.81,1565.20 1222.68,1567.71 1225.56,1570.23 1228.43,1572.77 1231.31,1575.32 1234.18,1577.88 1237.06,1580.46 1239.93,1583.04 1242.81,1585.64 1245.68,1588.24 1248.56,1590.85 1251.43,1593.47 1254.31,1596.09 1257.18,1598.73 1260.06,1601.36 1262.93,1604.01 1265.81,1606.65 1268.68,1609.31 1271.56,1611.96 1274.43,1614.62 1277.31,1617.29 1280.18,1619.96 1283.06,1622.63 1285.93,1625.30 1288.80,1627.98 1291.68,1630.65 1294.55,1633.33 1297.43,1636.02 1300.30,1638.70 1303.18,1641.39 1306.05,1644.07 1308.93,1646.76 1311.80,1649.45 1314.68,1652.15 1317.55,1654.84 1320.43,1657.53 1323.30,1660.23 1326.18,1662.92 1329.05,1665.62 1331.93,1668.32 1334.80,1671.01 1337.68,1673.71 1340.55,1676.41 1343.43,1679.11 1346.30,1681.81 1349.18,1684.51 1352.05,1687.21" fill="none" stroke="#111" stroke-width="2.2" stroke-linejoin="round"/><polyline points="205.00,1644.36 206.25,1643.19 207.49,1642.02 208.74,1640.86 209.99,1639.69 211.23,1638.52 212.48,1637.35 213.73,1636.19 214.97,1635.02 216.22,1633.85 217.47,1632.69 218.71,1631.52 219.96,1630.35 221.21,1629.19 222.45,1628.02 223.70,1626.86 224.95,1625.69 226.19,1624.53 227.44,1623.36 228.69,1622.20 229.93,1621.03 231.18,1619.87 232.43,1618.71 233.67,1617.55 234.92,1616.38 236.17,1615.22 237.41,1614.06 238.66,1612.90 239.91,1611.74 241.15,1610.58 242.40,1609.42 243.65,1608.26 244.89,1607.10 246.14,1605.94 247.39,1604.79 248.63,1603.63 249.88,1602.47 251.13,1601.32 252.37,1600.16 253.62,1599.01 254.87,1597.85 256.11,1596.70 257.36,1595.55 258.61,1594.40 259.85,1593.25 261.10,1592.10 262.35,1590.95 263.59,1589.80 264.84,1588.65 266.09,1587.51 267.33,1586.36 268.58,1585.22 269.82,1584.08 271.07,1582.93 272.32,1581.79 273.56,1580.65 274.81,1579.51 276.06,1578.38 277.30,1577.24 278.55,1576.11 279.80,1574.97 281.04,1573.84 282.29,1572.71 283.54,1571.58 284.78,1570.46 286.03,1569.33 287.28,1568.21 288.52,1567.09 289.77,1565.97 291.02,1564.85 292.26,1563.73 293.51,1562.62 294.76,1561.51 296.00,1560.40 297.25,1559.29 298.50,1558.19 299.74,1557.08 300.99,1555.98 302.24,1554.89 303.48,1553.79 304.73,1552.70 305.98,1551.61 307.22,1550.52 308.47,1549.44 309.72,1548.36 310.96,1547.28 312.21,1546.21 313.46,1545.14 314.70,1544.07 315.95,1543.01 317.20,1541.95 318.44,1540.89 319.69,1539.84 320.94,1538.80 322.18,1537.75 323.43,1536.71 324.68,1535.68 325.92,1534.65 327.17,1533.62 328.42,1532.60 329.66,1531.59 330.91,1530.58 332.16,1529.57 333.40,1528.58 334.65,1527.58 335.90,1526.59 337.14,1525.61 338.39,1524.63 339.64,1523.66 340.88,1522.70 342.13,1521.74 343.38,1520.79 344.62,1519.85 345.87,1518.91 347.12,1517.98 348.36,1517.06 349.61,1516.14 350.86,1515.23 352.10,1514.33 353.35,1513.44 354.60,1512.56 355.84,1511.68 357.09,1510.81 358.34,1509.95 359.58,1509.10 360.83,1508.26 362.08,1507.43 363.32,1506.60 364.57,1505.79 365.82,1504.98 367.06,1504.18 368.31,1503.39 369.56,1502.62 370.80,1501.85 372.05,1501.09 373.30,1500.34 374.54,1499.61 375.79,1498.88 377.04,1498.16 378.28,1497.45 379.53,1496.76 380.78,1496.07 382.02,1495.40 383.27,1494.73 384.52,1494.08 385.76,1493.43 387.01,1492.80 388.26,1492.18 389.50,1491.57 390.75,1490.97 391.99,1490.38 393.24,1489.80 394.49,1489.23 395.73,1488.67 396.98,1488.13 398.23,1487.59 399.47,1487.07 400.72,1486.55 401.97,1486.05 403.21,1485.56 404.46,1485.08 405.71,1484.61 406.95,1484.14 408.20,1483.69 409.45,1483.25 410.69,1482.82 411.94,1482.40 413.19,1481.99 414.43,1481.59 415.68,1481.20 416.93,1480.82 418.17,1480.45 419.42,1480.09 420.67,1479.73 421.91,1479.39 423.16,1479.05 424.41,1478.73 425.65,1478.41 426.90,1478.10 428.15,1477.80 429.39,1477.51 430.64,1477.22 431.89,1476.94 433.13,1476.67 434.38,1476.41 435.63,1476.16 436.87,1475.91 438.12,1475.67 439.37,1475.44 440.61,1475.22 441.86,1475.00 443.11,1474.78 444.35,1474.58 445.60,1474.38 446.85,1474.18 448.09,1474.00 449.34,1473.81 450.59,1473.64 451.83,1473.47 453.08,1473.30 453.08,1480.76 456.20,1480.37 459.31,1480.01 462.43,1479.68 465.55,1479.37 468.66,1479.09 471.78,1478.83 474.90,1478.59 478.01,1478.37 481.13,1478.17 484.25,1477.98 487.36,1477.82 490.48,1477.66 493.60,1477.52 496.71,1477.39 499.83,1477.27 502.95,1477.16 506.06,1477.06 509.18,1476.97 512.30,1476.89 515.41,1476.81 518.53,1476.74 521.64,1476.68 524.76,1476.62 527.88,1476.57 530.99,1476.52 534.11,1476.48 537.23,1476.44 540.34,1476.40 543.46,1476.37 546.58,1476.34 549.69,1476.31 552.81,1476.28 555.93,1476.26 559.04,1476.24 562.16,1476.22 565.28,1476.20 568.39,1476.19 571.51,1476.17 574.63,1476.16 577.74,1476.15 580.86,1476.13 583.98,1476.12 587.09,1476.11 590.21,1476.11 593.33,1476.10 596.44,1476.09 599.56,1476.09 602.68,1476.08 605.79,1476.07 608.91,1476.07 612.03,1476.06 615.14,1476.06 618.26,1476.06 621.38,1476.05 624.49,1476.05 627.61,1476.05 630.73,1476.05 633.84,1476.04 636.96,1476.04 640.07,1476.04 643.19,1476.04 646.31,1476.04 649.42,1476.03 652.54,1476.03 655.66,1476.03 658.77,1476.03 661.89,1476.03 665.01,1476.03 668.12,1476.03 671.24,1476.03 674.36,1476.03 677.47,1476.03 680.59,1476.03 683.71,1476.02 686.82,1476.02 689.94,1476.02 693.06,1476.02 696.17,1476.02 699.29,1476.02 702.41,1476.02 705.52,1476.02 708.64,1476.02 711.76,1476.02 714.87,1476.02 717.99,1476.02 721.11,1476.02 724.22,1476.02 727.34,1476.02 730.46,1476.02 733.57,1476.02 736.69,1476.02 739.81,1476.02 742.92,1476.02 746.04,1476.02 749.16,1476.02 752.27,1476.02 755.39,1476.02 758.51,1476.02 761.62,1476.02 764.74,1476.02 767.85,1476.02 770.97,1476.02 774.09,1476.02 777.20,1476.02 780.32,1476.02 783.44,1476.02 786.55,1476.02 789.67,1476.02 792.79,1476.02 795.90,1476.02 799.02,1476.02 802.14,1476.02 805.25,1476.02 808.37,1476.02 811.49,1476.02 814.60,1476.02 817.72,1476.02 820.84,1476.02 823.95,1476.02 827.07,1476.02 830.19,1476.02 833.30,1476.02 836.42,1476.02 839.54,1476.02 842.65,1476.02 845.77,1476.02 848.89,1476.03 852.00,1476.03 855.12,1476.03 858.24,1476.03 861.35,1476.03 864.47,1476.03 867.59,1476.03 870.70,1476.03 873.82,1476.03 876.94,1476.03 880.05,1476.04 883.17,1476.04 886.29,1476.04 889.40,1476.04 892.52,1476.04 895.63,1476.04 898.75,1476.05 901.87,1476.05 904.98,1476.05 908.10,1476.06 911.22,1476.06 914.33,1476.06 917.45,1476.07 920.57,1476.07 923.68,1476.08 926.80,1476.08 929.92,1476.09 933.03,1476.10 936.15,1476.10 939.27,1476.11 942.38,1476.12 945.50,1476.13 948.62,1476.14 951.73,1476.15 954.85,1476.17 957.97,1476.18 961.08,1476.20 964.20,1476.22 967.32,1476.23 970.43,1476.25 973.55,1476.28 976.67,1476.30 979.78,1476.33 982.90,1476.36 986.02,1476.39 989.13,1476.43 992.25,1476.47 995.37,1476.51 998.48,1476.56 1001.60,1476.61 1004.72,1476.67 1007.83,1476.73 1010.95,1476.80 1014.06,1476.87 1017.18,1476.95 1020.30,1477.04 1023.41,1477.14 1026.53,1477.25 1029.65,1477.36 1032.76,1477.49 1035.88,1477.63 1039.00,1477.78 1042.11,1477.95 1045.23,1478.13 1048.35,1478.33 1051.46,1478.54 1054.58,1478.78 1057.70,1479.03 1060.81,1479.31 1063.93,1479.61 1067.05,1479.94 1070.16,1480.29 1073.28,1480.68 1073.28,1473.22 1074.68,1473.40 1076.08,1473.59 1077.48,1473.79 1078.88,1473.99 1080.28,1474.20 1081.69,1474.42 1083.09,1474.65 1084.49,1474.88 1085.89,1475.13 1087.29,1475.38 1088.69,1475.64 1090.09,1475.91 1091.49,1476.18 1092.89,1476.47 1094.29,1476.77 1095.69,1477.07 1097.09,1477.39 1098.50,1477.71 1099.90,1478.05 1101.30,1478.40 1102.70,1478.75 1104.10,1479.12 1105.50,1479.50 1106.90,1479.89 1108.30,1480.29 1109.70,1480.71 1111.10,1481.13 1112.50,1481.57 1113.90,1482.02 1115.31,1482.49 1116.71,1482.96 1118.11,1483.45 1119.51,1483.95 1120.91,1484.46 1122.31,1484.99 1123.71,1485.53 1125.11,1486.08 1126.51,1486.65 1127.91,1487.23 1129.31,1487.82 1130.72,1488.43 1132.12,1489.05 1133.52,1489.69 1134.92,1490.34 1136.32,1491.00 1137.72,1491.67 1139.12,1492.36 1140.52,1493.07 1141.92,1493.78 1143.32,1494.52 1144.72,1495.26 1146.12,1496.02 1147.53,1496.79 1148.93,1497.57 1150.33,1498.37 1151.73,1499.18 1153.13,1500.00 1154.53,1500.84 1155.93,1501.69 1157.33,1502.55 1158.73,1503.42 1160.13,1504.31 1161.53,1505.20 1162.93,1506.11 1164.34,1507.04 1165.74,1507.97 1167.14,1508.91 1168.54,1509.87 1169.94,1510.83 1171.34,1511.81 1172.74,1512.80 1174.14,1513.79 1175.54,1514.80 1176.94,1515.82 1178.34,1516.84 1179.75,1517.88 1181.15,1518.92 1182.55,1519.98 1183.95,1521.04 1185.35,1522.11 1186.75,1523.19 1188.15,1524.28 1189.55,1525.37 1190.95,1526.47 1192.35,1527.58 1193.75,1528.70 1195.15,1529.83 1196.56,1530.96 1197.96,1532.09 1199.36,1533.24 1200.76,1534.39 1202.16,1535.54 1203.56,1536.71 1204.96,1537.87 1206.36,1539.05 1207.76,1540.23 1209.16,1541.41 1210.56,1542.60 1211.96,1543.79 1213.37,1544.99 1214.77,1546.19 1216.17,1547.40 1217.57,1548.61 1218.97,1549.82 1220.37,1551.04 1221.77,1552.26 1223.17,1553.49 1224.57,1554.72 1225.97,1555.95 1227.37,1557.19 1228.78,1558.43 1230.18,1559.67 1231.58,1560.92 1232.98,1562.16 1234.38,1563.42 1235.78,1564.67 1237.18,1565.92 1238.58,1567.18 1239.98,1568.44 1241.38,1569.71 1242.78,1570.97 1244.18,1572.24 1245.59,1573.51 1246.99,1574.78 1248.39,1576.05 1249.79,1577.33 1251.19,1578.60 1252.59,1579.88 1253.99,1581.16 1255.39,1582.44 1256.79,1583.73 1258.19,1585.01 1259.59,1586.30 1260.99,1587.58 1262.40,1588.87 1263.80,1590.16 1265.20,1591.45 1266.60,1592.74 1268.00,1594.03 1269.40,1595.33 1270.80,1596.62 1272.20,1597.92 1273.60,1599.21 1275.00,1600.51 1276.40,1601.81 1277.81,1603.11 1279.21,1604.41 1280.61,1605.71 1282.01,1607.01 1283.41,1608.31 1284.81,1609.61 1286.21,1610.92 1287.61,1612.22 1289.01,1613.52 1290.41,1614.83 1291.81,1616.14 1293.21,1617.44 1294.62,1618.75 1296.02,1620.05 1297.42,1621.36 1298.82,1622.67 1300.22,1623.98 1301.62,1625.29 1303.02,1626.60 1304.42,1627.90 1305.82,1629.21 1307.22,1630.52 1308.62,1631.84 1310.02,1633.15 1311.43,1634.46 1312.83,1635.77 1314.23,1637.08 1315.63,1638.39 1317.03,1639.70 1318.43,1641.02 1319.83,1642.33 1321.23,1643.64 1322.63,1644.95 1324.03,1646.27 1325.43,1647.58 1326.84,1648.90 1328.24,1650.21 1329.64,1651.52 1331.04,1652.84 1332.44,1654.15 1333.84,1655.47 1335.24,1656.78 1336.64,1658.10 1338.04,1659.41 1339.44,1660.73 1340.84,1662.04 1342.24,1663.36 1343.65,1664.67 1345.05,1665.99 1346.45,1667.30 1347.85,1668.62 1349.25,1669.93 1350.65,1671.25 1352.05,1672.57" fill="none" stroke="#111" stroke-width="1.6" stroke-linejoin="miter"/><polyline points="360.05,2066.80 360.05,1538.36 360.52,1538.05 360.98,1537.73 361.45,1537.42 361.92,1537.11 362.39,1536.80 362.85,1536.49 363.32,1536.18 363.79,1535.87 364.26,1535.57 364.72,1535.26 365.19,1534.96 365.66,1534.66 366.13,1534.36 366.59,1534.06 367.06,1533.76 367.53,1533.47 368.00,1533.17 368.46,1532.88 368.93,1532.59 369.40,1532.29 369.87,1532.00 370.33,1531.72 370.80,1531.43 371.27,1531.14 371.74,1530.86 372.20,1530.58 372.67,1530.30 373.14,1530.02 373.61,1529.74 374.07,1529.46 374.54,1529.19 375.01,1528.91 375.48,1528.64 375.94,1528.37 376.41,1528.10 376.88,1527.83 377.35,1527.56 377.81,1527.30 378.28,1527.03 378.75,1526.77 379.22,1526.51 379.68,1526.25 380.15,1525.99 380.62,1525.74 381.09,1525.48 381.55,1525.23 382.02,1524.98 382.49,1524.72 382.96,1524.48 383.42,1524.23 383.89,1523.98 384.36,1523.74 384.83,1523.49 385.29,1523.25 385.76,1523.01 386.23,1522.77 386.70,1522.54 387.16,1522.30 387.63,1522.07 388.10,1521.84 388.57,1521.60 389.03,1521.37 389.50,1521.15 389.97,1520.92 390.44,1520.70 390.90,1520.47 391.37,1520.25 391.84,1520.03 392.31,1519.81 392.77,1519.59 393.24,1519.38 393.71,1519.16 394.18,1518.95 394.64,1518.74 395.11,1518.53 395.58,1518.32 396.05,1518.12 396.51,1517.91 396.98,1517.71 397.45,1517.51 397.92,1517.31 398.38,1517.11 398.85,1516.91 399.32,1516.71 399.79,1516.52 400.25,1516.33 400.72,1516.13 401.19,1515.94 401.66,1515.76 402.12,1515.57 402.59,1515.38 403.06,1515.20 403.53,1515.02 403.99,1514.84 404.46,1514.66 404.93,1514.48 405.40,1514.30 405.86,1514.13 406.33,1513.95 406.80,1513.78 407.27,1513.61 407.73,1513.44 408.20,1513.27 408.67,1513.11 409.14,1512.94 409.60,1512.78 410.07,1512.62 410.54,1512.46 411.01,1512.30 411.47,1512.14 411.94,1511.98 412.41,1511.83 412.88,1511.67 413.34,1511.52 413.81,1511.37 414.28,1511.22 414.75,1511.07 415.21,1510.93 415.68,1510.78 416.15,1510.64 416.62,1510.49 417.08,1510.35 417.55,1510.21 418.02,1510.07 418.49,1509.94 418.95,1509.80 419.42,1509.67 419.89,1509.53 420.36,1509.40 420.82,1509.27 421.29,1509.14 421.76,1509.01 422.23,1508.88 422.69,1508.76 423.16,1508.63 423.63,1508.51 424.10,1508.39 424.56,1508.27 425.03,1508.15 425.50,1508.03 425.97,1507.91 426.43,1507.79 426.90,1507.68 427.37,1507.57 427.84,1507.45 428.30,1507.34 428.77,1507.23 429.24,1507.12 429.71,1507.01 430.17,1506.91 430.64,1506.80 431.11,1506.70 431.58,1506.59 432.04,1506.49 432.51,1506.39 432.98,1506.29 433.45,1506.19 433.91,1506.09 434.38,1505.99 434.85,1505.90 435.32,1505.80 435.78,1505.71 436.25,1505.62 436.72,1505.52 437.19,1505.43 437.65,1505.34 438.12,1505.25 438.59,1505.17 439.06,1505.08 439.52,1504.99 439.99,1504.91 440.46,1504.82 440.93,1504.74 441.39,1504.66 441.86,1504.58 442.33,1504.50 442.80,1504.42 443.26,1504.34 443.73,1504.26 444.20,1504.18 444.67,1504.11 445.13,1504.03 445.60,1503.96 446.07,1503.88 446.54,1503.81 447.00,1503.74 447.47,1503.67 447.94,1503.60 448.41,1503.53 448.87,1503.46 449.34,1503.39 449.81,1503.33 450.28,1503.26 450.74,1503.20 451.21,1503.13 451.68,1503.07 452.15,1503.00 452.61,1502.94 453.08,1502.88 453.08,1495.33 456.20,1494.94 459.31,1494.57 462.43,1494.24 465.55,1493.93 468.66,1493.65 471.78,1493.39 474.90,1493.15 478.01,1492.93 481.13,1492.73 484.25,1492.55 487.36,1492.38 490.48,1492.23 493.60,1492.08 496.71,1491.95 499.83,1491.84 502.95,1491.73 506.06,1491.63 509.18,1491.54 512.30,1491.45 515.41,1491.38 518.53,1491.31 521.64,1491.24 524.76,1491.19 527.88,1491.13 530.99,1491.09 534.11,1491.04 537.23,1491.00 540.34,1490.96 543.46,1490.93 546.58,1490.90 549.69,1490.87 552.81,1490.85 555.93,1490.82 559.04,1490.80 562.16,1490.78 565.28,1490.77 568.39,1490.75 571.51,1490.74 574.63,1490.72 577.74,1490.71 580.86,1490.70 583.98,1490.69 587.09,1490.68 590.21,1490.67 593.33,1490.66 596.44,1490.66 599.56,1490.65 602.68,1490.64 605.79,1490.64 608.91,1490.63 612.03,1490.63 615.14,1490.63 618.26,1490.62 621.38,1490.62 624.49,1490.62 627.61,1490.61 630.73,1490.61 633.84,1490.61 636.96,1490.61 640.07,1490.60 643.19,1490.60 646.31,1490.60 649.42,1490.60 652.54,1490.60 655.66,1490.60 658.77,1490.60 661.89,1490.59 665.01,1490.59 668.12,1490.59 671.24,1490.59 674.36,1490.59 677.47,1490.59 680.59,1490.59 683.71,1490.59 686.82,1490.59 689.94,1490.59 693.06,1490.59 696.17,1490.59 699.29,1490.59 702.41,1490.59 705.52,1490.59 708.64,1490.59 711.76,1490.59 714.87,1490.59 717.99,1490.59 721.11,1490.59 724.22,1490.59 727.34,1490.59 730.46,1490.59 733.57,1490.59 736.69,1490.59 739.81,1490.59 742.92,1490.59 746.04,1490.59 749.16,1490.59 752.27,1490.59 755.39,1490.59 758.51,1490.59 761.62,1490.59 764.74,1490.59 767.85,1490.59 770.97,1490.59 774.09,1490.59 777.20,1490.59 780.32,1490.59 783.44,1490.59 786.55,1490.59 789.67,1490.59 792.79,1490.59 795.90,1490.59 799.02,1490.59 802.14,1490.59 805.25,1490.59 808.37,1490.59 811.49,1490.59 814.60,1490.59 817.72,1490.59 820.84,1490.59 823.95,1490.59 827.07,1490.59 830.19,1490.59 833.30,1490.59 836.42,1490.59 839.54,1490.59 842.65,1490.59 845.77,1490.59 848.89,1490.59 852.00,1490.59 855.12,1490.59 858.24,1490.59 861.35,1490.59 864.47,1490.59 867.59,1490.60 870.70,1490.60 873.82,1490.60 876.94,1490.60 880.05,1490.60 883.17,1490.60 886.29,1490.60 889.40,1490.61 892.52,1490.61 895.63,1490.61 898.75,1490.61 901.87,1490.61 904.98,1490.62 908.10,1490.62 911.22,1490.62 914.33,1490.63 917.45,1490.63 920.57,1490.64 923.68,1490.64 926.80,1490.65 929.92,1490.65 933.03,1490.66 936.15,1490.67 939.27,1490.68 942.38,1490.69 945.50,1490.70 948.62,1490.71 951.73,1490.72 954.85,1490.73 957.97,1490.75 961.08,1490.76 964.20,1490.78 967.32,1490.80 970.43,1490.82 973.55,1490.84 976.67,1490.87 979.78,1490.89 982.90,1490.92 986.02,1490.96 989.13,1490.99 992.25,1491.03 995.37,1491.08 998.48,1491.12 1001.60,1491.18 1004.72,1491.23 1007.83,1491.29 1010.95,1491.36 1014.06,1491.44 1017.18,1491.52 1020.30,1491.61 1023.41,1491.71 1026.53,1491.81 1029.65,1491.93 1032.76,1492.06 1035.88,1492.20 1039.00,1492.35 1042.11,1492.51 1045.23,1492.69 1048.35,1492.89 1051.46,1493.11 1054.58,1493.34 1057.70,1493.60 1060.81,1493.87 1063.93,1494.18 1067.05,1494.50 1070.16,1494.86 1073.28,1495.24 1073.28,1502.80 1073.75,1502.86 1074.21,1502.92 1074.68,1502.98 1075.15,1503.04 1075.62,1503.11 1076.08,1503.17 1076.55,1503.24 1077.02,1503.30 1077.49,1503.37 1077.95,1503.44 1078.42,1503.50 1078.89,1503.57 1079.36,1503.64 1079.82,1503.71 1080.29,1503.79 1080.76,1503.86 1081.23,1503.93 1081.69,1504.00 1082.16,1504.08 1082.63,1504.15 1083.10,1504.23 1083.56,1504.31 1084.03,1504.39 1084.50,1504.47 1084.97,1504.55 1085.43,1504.63 1085.90,1504.71 1086.37,1504.79 1086.84,1504.88 1087.30,1504.96 1087.77,1505.05 1088.24,1505.13 1088.71,1505.22 1089.17,1505.31 1089.64,1505.40 1090.11,1505.49 1090.58,1505.58 1091.04,1505.67 1091.51,1505.77 1091.98,1505.86 1092.45,1505.96 1092.91,1506.06 1093.38,1506.15 1093.85,1506.25 1094.32,1506.35 1094.78,1506.45 1095.25,1506.55 1095.72,1506.66 1096.19,1506.76 1096.65,1506.87 1097.12,1506.97 1097.59,1507.08 1098.06,1507.19 1098.52,1507.30 1098.99,1507.41 1099.46,1507.52 1099.93,1507.64 1100.39,1507.75 1100.86,1507.87 1101.33,1507.98 1101.80,1508.10 1102.26,1508.22 1102.73,1508.34 1103.20,1508.46 1103.67,1508.59 1104.13,1508.71 1104.60,1508.84 1105.07,1508.96 1105.54,1509.09 1106.00,1509.22 1106.47,1509.35 1106.94,1509.48 1107.41,1509.62 1107.87,1509.75 1108.34,1509.89 1108.81,1510.02 1109.28,1510.16 1109.74,1510.30 1110.21,1510.44 1110.68,1510.58 1111.15,1510.73 1111.61,1510.87 1112.08,1511.02 1112.55,1511.17 1113.02,1511.32 1113.48,1511.47 1113.95,1511.62 1114.42,1511.77 1114.89,1511.93 1115.35,1512.08 1115.82,1512.24 1116.29,1512.40 1116.76,1512.56 1117.22,1512.72 1117.69,1512.88 1118.16,1513.05 1118.63,1513.21 1119.09,1513.38 1119.56,1513.55 1120.03,1513.72 1120.50,1513.89 1120.96,1514.06 1121.43,1514.24 1121.90,1514.41 1122.37,1514.59 1122.83,1514.77 1123.30,1514.95 1123.77,1515.13 1124.24,1515.32 1124.70,1515.50 1125.17,1515.69 1125.64,1515.88 1126.11,1516.07 1126.57,1516.26 1127.04,1516.45 1127.51,1516.64 1127.98,1516.84 1128.44,1517.03 1128.91,1517.23 1129.38,1517.43 1129.85,1517.63 1130.31,1517.84 1130.78,1518.04 1131.25,1518.25 1131.72,1518.45 1132.18,1518.66 1132.65,1518.87 1133.12,1519.09 1133.59,1519.30 1134.05,1519.52 1134.52,1519.73 1134.99,1519.95 1135.46,1520.17 1135.92,1520.39 1136.39,1520.61 1136.86,1520.84 1137.33,1521.06 1137.79,1521.29 1138.26,1521.52 1138.73,1521.75 1139.20,1521.98 1139.66,1522.22 1140.13,1522.45 1140.60,1522.69 1141.07,1522.93 1141.53,1523.16 1142.00,1523.41 1142.47,1523.65 1142.94,1523.89 1143.40,1524.14 1143.87,1524.38 1144.34,1524.63 1144.81,1524.88 1145.27,1525.13 1145.74,1525.39 1146.21,1525.64 1146.68,1525.90 1147.14,1526.16 1147.61,1526.41 1148.08,1526.68 1148.55,1526.94 1149.01,1527.20 1149.48,1527.47 1149.95,1527.73 1150.42,1528.00 1150.88,1528.27 1151.35,1528.54 1151.82,1528.81 1152.29,1529.09 1152.75,1529.36 1153.22,1529.64 1153.69,1529.91 1154.16,1530.19 1154.62,1530.47 1155.09,1530.76 1155.56,1531.04 1156.03,1531.32 1156.49,1531.61 1156.96,1531.90 1157.43,1532.19 1157.90,1532.48 1158.36,1532.77 1158.83,1533.06 1159.30,1533.36 1159.77,1533.65 1160.23,1533.95 1160.70,1534.25 1161.17,1534.55 1161.64,1534.85 1162.10,1535.15 1162.57,1535.46 1163.04,1535.76 1163.51,1536.07 1163.97,1536.38 1164.44,1536.68 1164.91,1537.00 1165.38,1537.31 1165.84,1537.62 1166.31,1537.93 1166.31,2066.80" fill="none" stroke="#111" stroke-width="1.6" stroke-linejoin="miter"/><polyline points="205.00,1658.86 207.87,1656.16 210.75,1653.46 213.62,1650.76 216.50,1648.06 219.37,1645.36 222.25,1642.67 225.12,1639.97 228.00,1637.28 230.87,1634.59 233.75,1631.90 236.62,1629.21 239.50,1626.52 242.37,1623.84 245.25,1621.15 248.12,1618.47 251.00,1615.80 253.87,1613.12 256.75,1610.45 259.62,1607.78 262.50,1605.12 265.37,1602.46 268.25,1599.81 271.12,1597.16 274.00,1594.51 276.87,1591.87 279.75,1589.24 282.62,1586.62 285.49,1584.00 288.37,1581.40 291.24,1578.80 294.12,1576.21 296.99,1573.63 299.87,1571.07 302.74,1568.51 305.62,1565.97 308.49,1563.45 311.37,1560.94 314.24,1558.45 317.12,1555.97 319.99,1553.52 322.87,1551.09 325.74,1548.68 328.62,1546.29 331.49,1543.94 334.37,1541.60 337.24,1539.30 340.12,1537.03 342.99,1534.80 345.87,1532.59 348.74,1530.43 351.62,1528.31 354.49,1526.22 357.37,1524.18 360.24,1522.18 363.11,1520.23 365.99,1518.33 368.86,1516.48 371.74,1514.68 374.61,1512.94 377.49,1511.24 380.36,1509.61 383.24,1508.03 386.11,1506.51 388.99,1505.05 391.86,1503.65 394.74,1502.31 397.61,1501.03 400.49,1499.80 403.36,1498.64 406.24,1497.54 409.11,1496.49 411.99,1495.51 414.86,1494.58 417.74,1493.71 420.61,1492.89 423.49,1492.13 426.36,1491.42 429.24,1490.76 432.11,1490.16 434.99,1489.60 437.86,1489.10 440.73,1488.64 443.61,1488.23 446.48,1487.86 449.36,1487.54 452.23,1487.27 455.11,1487.03 457.98,1486.84 460.86,1486.69 463.73,1486.58 466.61,1486.52 469.48,1486.49 472.36,1486.50 475.23,1486.56 478.11,1486.65 480.98,1486.78 483.86,1486.95 486.73,1487.16 489.61,1487.41 492.48,1487.70 495.36,1488.03 498.23,1488.39 501.11,1488.80 503.98,1489.24 506.86,1489.72 509.73,1490.24 512.61,1490.80 515.48,1491.40 518.35,1492.03 521.23,1492.70 524.10,1493.40 526.98,1494.14 529.85,1494.92 532.73,1495.72 535.60,1496.57 538.48,1497.44 541.35,1498.34 544.23,1499.28 547.10,1500.24 549.98,1501.23 552.85,1502.25 555.73,1503.29 558.60,1504.36 561.48,1505.45 564.35,1506.57 567.23,1507.70 570.10,1508.86 572.98,1510.03 575.85,1511.22 578.73,1512.43 581.60,1513.66 584.48,1514.90 587.35,1516.15 590.23,1517.42 593.10,1518.69 595.97,1519.98 598.85,1521.28 601.72,1522.59 604.60,1523.90 607.47,1525.23 610.35,1526.56 613.22,1527.89 616.10,1529.24 618.97,1530.58 621.85,1531.94 624.72,1533.30 627.60,1534.66 630.47,1536.02 633.35,1537.39 636.22,1538.76 639.10,1540.13 641.97,1541.51 644.85,1542.88 647.72,1544.26 650.60,1545.64 653.47,1547.02 656.35,1548.40 659.22,1549.79 662.10,1551.17 664.97,1552.55 667.84,1553.93 670.72,1555.32 673.59,1556.70 676.47,1558.08 679.34,1559.47 682.22,1560.85 685.09,1562.23 687.97,1563.61 690.84,1564.99 693.72,1566.38 696.59,1567.76 699.47,1569.14 702.34,1570.52 705.22,1571.89 708.09,1573.27 710.97,1574.65 713.84,1576.03 716.72,1577.40 719.59,1578.78 722.47,1580.16 725.34,1581.53 728.22,1582.90 731.09,1584.28 733.97,1585.65 736.84,1587.02 739.72,1588.39 742.59,1589.76 745.46,1591.13 748.34,1592.50 751.21,1593.87 754.09,1595.24 756.96,1596.61 759.84,1597.98 762.71,1599.34 765.59,1600.71 768.46,1602.08 771.34,1603.44 774.21,1604.81 777.09,1606.17 779.96,1607.54 782.84,1608.90 785.71,1610.26 788.59,1611.63 791.46,1612.99 794.34,1614.35 797.21,1615.71 800.09,1617.07 802.96,1618.44 805.84,1619.80 808.71,1621.16 811.59,1622.52 814.46,1623.88 817.34,1625.24 820.21,1626.60 823.08,1627.96 825.96,1629.31 828.83,1630.67 831.71,1632.03 834.58,1633.39 837.46,1634.75 840.33,1636.11 843.21,1637.46 846.08,1638.82 848.96,1640.18 851.83,1641.54 854.71,1642.89 857.58,1644.25 860.46,1645.61 863.33,1646.97 866.21,1648.32 869.08,1649.68 871.96,1651.04 874.83,1652.39 877.71,1653.75 880.58,1655.11 883.46,1656.46 886.33,1657.82 889.21,1659.18 892.08,1660.53 894.96,1661.89 897.83,1663.25 900.70,1664.61 903.58,1665.96 906.45,1667.32 909.33,1668.68 912.20,1670.04 915.08,1671.39 917.95,1672.75 920.83,1674.11 923.70,1675.47 926.58,1676.83 929.45,1678.19 932.33,1679.55 935.20,1680.91 938.08,1682.27 940.95,1683.63 943.83,1684.99 946.70,1686.36 949.58,1687.72 952.45,1689.09 955.33,1690.45 958.20,1691.82 961.08,1693.19 963.95,1694.56 966.83,1695.93 969.70,1697.30 972.58,1698.67 975.45,1700.05 978.32,1701.43 981.20,1702.81 984.07,1704.19 986.95,1705.57 989.82,1706.96 992.70,1708.35 995.57,1709.74 998.45,1711.14 1001.32,1712.54 1004.20,1713.95 1007.07,1715.35 1009.95,1716.77 1012.82,1718.19 1015.70,1719.61 1018.57,1721.05 1021.45,1722.48 1024.32,1723.93 1027.20,1725.38 1030.07,1726.85 1032.95,1728.32 1035.82,1729.80 1038.70,1731.29 1041.57,1732.79 1044.45,1734.31 1047.32,1735.84 1050.20,1737.39 1053.07,1738.95 1055.94,1740.53 1058.82,1742.12 1061.69,1743.74 1064.57,1745.37 1067.44,1747.03 1070.32,1748.72 1073.19,1750.43 1076.07,1752.16 1078.94,1753.93 1081.82,1755.72 1084.69,1757.55 1087.57,1759.41 1090.44,1761.31 1093.32,1763.25 1096.19,1765.22 1099.07,1767.24 1101.94,1769.31 1104.82,1771.41 1107.69,1773.57 1110.57,1775.77 1113.44,1778.03 1116.32,1780.34 1119.19,1782.70 1122.07,1785.11 1124.94,1787.58 1127.82,1790.11 1130.69,1792.69 1133.56,1795.34 1136.44,1798.04 1139.31,1800.79 1142.19,1803.61 1145.06,1806.48 1147.94,1809.41 1150.81,1812.39 1153.69,1815.43 1156.56,1818.52 1159.44,1821.67 1162.31,1824.86 1165.19,1828.11 1168.06,1831.40 1170.94,1834.74 1173.81,1838.12 1176.69,1841.55 1179.56,1845.01 1182.44,1848.51 1185.31,1852.06 1188.19,1855.63 1191.06,1859.24 1193.94,1862.88 1196.81,1866.55 1199.69,1870.24 1202.56,1873.97 1205.44,1877.71 1208.31,1881.48 1211.18,1885.27 1214.06,1889.08 1216.93,1892.91 1219.81,1896.76 1222.68,1900.62 1225.56,1904.50 1228.43,1908.39 1231.31,1912.29 1234.18,1916.21 1237.06,1920.14 1239.93,1924.07 1242.81,1928.02 1245.68,1931.97 1248.56,1935.94 1251.43,1939.91 1254.31,1943.89 1257.18,1947.87 1260.06,1951.86 1262.93,1955.86 1265.81,1959.86 1268.68,1963.86 1271.56,1967.87 1274.43,1971.88 1277.31,1975.90 1280.18,1979.92 1283.06,1983.94 1285.93,1987.97 1288.80,1992.00 1291.68,1996.03 1294.55,2000.06 1297.43,2004.10 1300.30,2008.13 1303.18,2012.17 1306.05,2016.21 1308.93,2020.25 1311.80,2024.30 1314.68,2028.34 1317.55,2032.39 1320.43,2036.43 1323.30,2040.48 1326.18,2044.53 1329.05,2048.58 1331.93,2052.63 1334.80,2056.68 1337.68,2060.73 1340.55,2064.78 1343.43,2068.83 1346.30,2072.88 1349.18,2076.94 1352.05,2080.99" fill="none" stroke="#111" stroke-width="2.8" stroke-linejoin="round"/><polyline points="205.00,1644.21 206.25,1643.04 207.49,1641.87 208.74,1640.70 209.99,1639.53 211.23,1638.36 212.48,1637.19 213.73,1636.02 214.97,1634.85 216.22,1633.68 217.47,1632.51 218.71,1631.34 219.96,1630.17 221.21,1629.00 222.45,1627.83 223.70,1626.66 224.95,1625.49 226.19,1624.33 227.44,1623.16 228.69,1621.99 229.93,1620.82 231.18,1619.66 232.43,1618.49 233.67,1617.32 234.92,1616.16 236.17,1614.99 237.41,1613.82 238.66,1612.66 239.91,1611.49 241.15,1610.33 242.40,1609.17 243.65,1608.00 244.89,1606.84 246.14,1605.68 247.39,1604.52 248.63,1603.35 249.88,1602.19 251.13,1601.03 252.37,1599.87 253.62,1598.71 254.87,1597.55 256.11,1596.40 257.36,1595.24 258.61,1594.08 259.85,1592.93 261.10,1591.77 262.35,1590.62 263.59,1589.46 264.84,1588.31 266.09,1587.16 267.33,1586.01 268.58,1584.86 269.82,1583.71 271.07,1582.56 272.32,1581.41 273.56,1580.26 274.81,1579.12 276.06,1577.98 277.30,1576.83 278.55,1575.69 279.80,1574.55 281.04,1573.41 282.29,1572.28 283.54,1571.14 284.78,1570.00 286.03,1568.87 287.28,1567.74 288.52,1566.61 289.77,1565.48 291.02,1564.36 292.26,1563.23 293.51,1562.11 294.76,1560.99 296.00,1559.87 297.25,1558.76 298.50,1557.64 299.74,1556.53 300.99,1555.42 302.24,1554.32 303.48,1553.21 304.73,1552.11 305.98,1551.01 307.22,1549.92 308.47,1548.82 309.72,1547.73 310.96,1546.65 312.21,1545.56 313.46,1544.48 314.70,1543.41 315.95,1542.33 317.20,1541.26 318.44,1540.20 319.69,1539.13 320.94,1538.08 322.18,1537.02 323.43,1535.97 324.68,1534.93 325.92,1533.88 327.17,1532.85 328.42,1531.82 329.66,1530.79 330.91,1529.77 332.16,1528.75 333.40,1527.74 334.65,1526.73 335.90,1525.73 337.14,1524.74 338.39,1523.75 339.64,1522.77 340.88,1521.79 342.13,1520.82 343.38,1519.86 344.62,1518.90 345.87,1517.95 347.12,1517.00 348.36,1516.07 349.61,1515.14 350.86,1514.22 352.10,1513.30 353.35,1512.40 354.60,1511.50 355.84,1510.61 357.09,1509.73 358.34,1508.86 359.58,1507.99 360.83,1507.13 362.08,1506.29 363.32,1505.45 364.57,1504.62 365.82,1503.80 367.06,1502.99 368.31,1502.19 369.56,1501.40 370.80,1500.62 372.05,1499.85 373.30,1499.09 374.54,1498.33 375.79,1497.59 377.04,1496.86 378.28,1496.14 379.53,1495.43 380.78,1494.74 382.02,1494.05 383.27,1493.37 384.52,1492.71 385.76,1492.05 387.01,1491.41 388.26,1490.77 389.50,1490.15 390.75,1489.54 391.99,1488.94 393.24,1488.35 394.49,1487.78 395.73,1487.21 396.98,1486.66 398.23,1486.11 399.47,1485.58 400.72,1485.06 401.97,1484.55 403.21,1484.05 404.46,1483.57 405.71,1483.09 406.95,1482.63 408.20,1482.17 409.45,1481.73 410.69,1481.30 411.94,1480.88 413.19,1480.47 414.43,1480.07 415.68,1479.68 416.93,1479.30 418.17,1478.93 419.42,1478.58 420.67,1478.23 421.91,1477.89 423.16,1477.57 424.41,1477.25 425.65,1476.94 426.90,1476.65 428.15,1476.36 429.39,1476.08 430.64,1475.82 431.89,1475.56 433.13,1475.31 434.38,1475.07 435.63,1474.84 436.87,1474.62 438.12,1474.41 439.37,1474.21 440.61,1474.01 441.86,1473.83 443.11,1473.65 444.35,1473.49 445.60,1473.33 446.85,1473.18 448.09,1473.03 449.34,1472.90 450.59,1472.77 451.83,1472.66 453.08,1472.55 453.08,1480.01 456.20,1479.77 459.31,1479.59 462.43,1479.45 465.55,1479.35 468.66,1479.31 471.78,1479.32 474.90,1479.37 478.01,1479.46 481.13,1479.61 484.25,1479.80 487.36,1480.03 490.48,1480.31 493.60,1480.64 496.71,1481.02 499.83,1481.43 502.95,1481.90 506.06,1482.41 509.18,1482.96 512.30,1483.56 515.41,1484.20 518.53,1484.89 521.64,1485.62 524.76,1486.39 527.88,1487.20 530.99,1488.05 534.11,1488.94 537.23,1489.87 540.34,1490.84 543.46,1491.84 546.58,1492.88 549.69,1493.95 552.81,1495.05 555.93,1496.19 559.04,1497.35 562.16,1498.54 565.28,1499.75 568.39,1500.99 571.51,1502.25 574.63,1503.53 577.74,1504.84 580.86,1506.16 583.98,1507.50 587.09,1508.86 590.21,1510.23 593.33,1511.61 596.44,1513.01 599.56,1514.42 602.68,1515.84 605.79,1517.27 608.91,1518.71 612.03,1520.15 615.14,1521.61 618.26,1523.07 621.38,1524.53 624.49,1526.01 627.61,1527.48 630.73,1528.96 633.84,1530.44 636.96,1531.93 640.07,1533.42 643.19,1534.91 646.31,1536.40 649.42,1537.90 652.54,1539.39 655.66,1540.89 658.77,1542.39 661.89,1543.89 665.01,1545.39 668.12,1546.89 671.24,1548.39 674.36,1549.89 677.47,1551.39 680.59,1552.88 683.71,1554.38 686.82,1555.88 689.94,1557.38 693.06,1558.88 696.17,1560.37 699.29,1561.87 702.41,1563.37 705.52,1564.86 708.64,1566.35 711.76,1567.85 714.87,1569.34 717.99,1570.83 721.11,1572.32 724.22,1573.81 727.34,1575.30 730.46,1576.79 733.57,1578.28 736.69,1579.77 739.81,1581.26 742.92,1582.74 746.04,1584.23 749.16,1585.71 752.27,1587.20 755.39,1588.68 758.51,1590.16 761.62,1591.64 764.74,1593.13 767.85,1594.61 770.97,1596.09 774.09,1597.57 777.20,1599.05 780.32,1600.52 783.44,1602.00 786.55,1603.48 789.67,1604.96 792.79,1606.44 795.90,1607.91 799.02,1609.39 802.14,1610.86 805.25,1612.34 808.37,1613.81 811.49,1615.29 814.60,1616.76 817.72,1618.24 820.84,1619.71 823.95,1621.19 827.07,1622.66 830.19,1624.13 833.30,1625.60 836.42,1627.08 839.54,1628.55 842.65,1630.02 845.77,1631.49 848.89,1632.96 852.00,1634.44 855.12,1635.91 858.24,1637.38 861.35,1638.85 864.47,1640.32 867.59,1641.79 870.70,1643.26 873.82,1644.73 876.94,1646.21 880.05,1647.68 883.17,1649.15 886.29,1650.62 889.40,1652.09 892.52,1653.56 895.63,1655.03 898.75,1656.50 901.87,1657.97 904.98,1659.44 908.10,1660.92 911.22,1662.39 914.33,1663.86 917.45,1665.33 920.57,1666.81 923.68,1668.28 926.80,1669.75 929.92,1671.23 933.03,1672.70 936.15,1674.18 939.27,1675.65 942.38,1677.13 945.50,1678.61 948.62,1680.09 951.73,1681.56 954.85,1683.05 957.97,1684.53 961.08,1686.01 964.20,1687.49 967.32,1688.98 970.43,1690.47 973.55,1691.96 976.67,1693.45 979.78,1694.94 982.90,1696.44 986.02,1697.94 989.13,1699.44 992.25,1700.95 995.37,1702.46 998.48,1703.98 1001.60,1705.49 1004.72,1707.02 1007.83,1708.55 1010.95,1710.08 1014.06,1711.62 1017.18,1713.17 1020.30,1714.73 1023.41,1716.29 1026.53,1717.86 1029.65,1719.45 1032.76,1721.04 1035.88,1722.65 1039.00,1724.27 1042.11,1725.90 1045.23,1727.55 1048.35,1729.21 1051.46,1730.89 1054.58,1732.59 1057.70,1734.32 1060.81,1736.06 1063.93,1737.83 1067.05,1739.62 1070.16,1741.44 1073.28,1743.30 1073.28,1735.83 1074.68,1736.68 1076.08,1737.53 1077.48,1738.38 1078.88,1739.25 1080.28,1740.12 1081.69,1740.99 1083.09,1741.88 1084.49,1742.77 1085.89,1743.68 1087.29,1744.59 1088.69,1745.50 1090.09,1746.43 1091.49,1747.37 1092.89,1748.31 1094.29,1749.27 1095.69,1750.23 1097.09,1751.21 1098.50,1752.19 1099.90,1753.19 1101.30,1754.20 1102.70,1755.21 1104.10,1756.24 1105.50,1757.28 1106.90,1758.33 1108.30,1759.39 1109.70,1760.46 1111.10,1761.55 1112.50,1762.65 1113.90,1763.75 1115.31,1764.88 1116.71,1766.01 1118.11,1767.16 1119.51,1768.32 1120.91,1769.49 1122.31,1770.68 1123.71,1771.88 1125.11,1773.09 1126.51,1774.31 1127.91,1775.55 1129.31,1776.81 1130.72,1778.07 1132.12,1779.35 1133.52,1780.65 1134.92,1781.96 1136.32,1783.28 1137.72,1784.61 1139.12,1785.96 1140.52,1787.32 1141.92,1788.70 1143.32,1790.09 1144.72,1791.49 1146.12,1792.91 1147.53,1794.34 1148.93,1795.78 1150.33,1797.24 1151.73,1798.71 1153.13,1800.19 1154.53,1801.68 1155.93,1803.19 1157.33,1804.71 1158.73,1806.25 1160.13,1807.79 1161.53,1809.35 1162.93,1810.92 1164.34,1812.50 1165.74,1814.09 1167.14,1815.69 1168.54,1817.30 1169.94,1818.93 1171.34,1820.56 1172.74,1822.21 1174.14,1823.87 1175.54,1825.53 1176.94,1827.21 1178.34,1828.89 1179.75,1830.59 1181.15,1832.29 1182.55,1834.01 1183.95,1835.73 1185.35,1837.46 1186.75,1839.20 1188.15,1840.94 1189.55,1842.70 1190.95,1844.46 1192.35,1846.23 1193.75,1848.00 1195.15,1849.79 1196.56,1851.58 1197.96,1853.37 1199.36,1855.18 1200.76,1856.99 1202.16,1858.80 1203.56,1860.62 1204.96,1862.45 1206.36,1864.28 1207.76,1866.12 1209.16,1867.96 1210.56,1869.81 1211.96,1871.66 1213.37,1873.52 1214.77,1875.38 1216.17,1877.24 1217.57,1879.11 1218.97,1880.99 1220.37,1882.87 1221.77,1884.75 1223.17,1886.63 1224.57,1888.52 1225.97,1890.41 1227.37,1892.31 1228.78,1894.21 1230.18,1896.11 1231.58,1898.01 1232.98,1899.92 1234.38,1901.83 1235.78,1903.74 1237.18,1905.66 1238.58,1907.58 1239.98,1909.50 1241.38,1911.42 1242.78,1913.34 1244.18,1915.27 1245.59,1917.20 1246.99,1919.13 1248.39,1921.06 1249.79,1922.99 1251.19,1924.93 1252.59,1926.87 1253.99,1928.80 1255.39,1930.74 1256.79,1932.69 1258.19,1934.63 1259.59,1936.57 1260.99,1938.52 1262.40,1940.47 1263.80,1942.42 1265.20,1944.37 1266.60,1946.32 1268.00,1948.27 1269.40,1950.22 1270.80,1952.17 1272.20,1954.13 1273.60,1956.08 1275.00,1958.04 1276.40,1960.00 1277.81,1961.96 1279.21,1963.91 1280.61,1965.87 1282.01,1967.83 1283.41,1969.80 1284.81,1971.76 1286.21,1973.72 1287.61,1975.68 1289.01,1977.65 1290.41,1979.61 1291.81,1981.57 1293.21,1983.54 1294.62,1985.50 1296.02,1987.47 1297.42,1989.44 1298.82,1991.40 1300.22,1993.37 1301.62,1995.34 1303.02,1997.31 1304.42,1999.28 1305.82,2001.24 1307.22,2003.21 1308.62,2005.18 1310.02,2007.15 1311.43,2009.12 1312.83,2011.09 1314.23,2013.06 1315.63,2015.03 1317.03,2017.01 1318.43,2018.98 1319.83,2020.95 1321.23,2022.92 1322.63,2024.89 1324.03,2026.87 1325.43,2028.84 1326.84,2030.81 1328.24,2032.78 1329.64,2034.76 1331.04,2036.73 1332.44,2038.70 1333.84,2040.68 1335.24,2042.65 1336.64,2044.62 1338.04,2046.60 1339.44,2048.57 1340.84,2050.55 1342.24,2052.52 1343.65,2054.50 1345.05,2056.47 1346.45,2058.45 1347.85,2060.42 1349.25,2062.40 1350.65,2064.37 1352.05,2066.35" fill="none" stroke="#111" stroke-width="1.6" stroke-linejoin="miter"/><polyline points="360.05,2066.80 360.05,1537.25 360.52,1536.93 360.98,1536.61 361.45,1536.29 361.92,1535.97 362.39,1535.66 362.85,1535.34 363.32,1535.03 363.79,1534.72 364.26,1534.41 364.72,1534.10 365.19,1533.79 365.66,1533.48 366.13,1533.18 366.59,1532.87 367.06,1532.57 367.53,1532.27 368.00,1531.97 368.46,1531.67 368.93,1531.37 369.40,1531.08 369.87,1530.78 370.33,1530.49 370.80,1530.20 371.27,1529.91 371.74,1529.62 372.20,1529.33 372.67,1529.04 373.14,1528.76 373.61,1528.48 374.07,1528.20 374.54,1527.91 375.01,1527.64 375.48,1527.36 375.94,1527.08 376.41,1526.81 376.88,1526.53 377.35,1526.26 377.81,1525.99 378.28,1525.72 378.75,1525.46 379.22,1525.19 379.68,1524.93 380.15,1524.66 380.62,1524.40 381.09,1524.14 381.55,1523.89 382.02,1523.63 382.49,1523.37 382.96,1523.12 383.42,1522.87 383.89,1522.62 384.36,1522.37 384.83,1522.12 385.29,1521.88 385.76,1521.63 386.23,1521.39 386.70,1521.15 387.16,1520.91 387.63,1520.67 388.10,1520.43 388.57,1520.20 389.03,1519.96 389.50,1519.73 389.97,1519.50 390.44,1519.27 390.90,1519.05 391.37,1518.82 391.84,1518.60 392.31,1518.37 392.77,1518.15 393.24,1517.93 393.71,1517.72 394.18,1517.50 394.64,1517.29 395.11,1517.07 395.58,1516.86 396.05,1516.65 396.51,1516.44 396.98,1516.24 397.45,1516.03 397.92,1515.83 398.38,1515.63 398.85,1515.43 399.32,1515.23 399.79,1515.03 400.25,1514.84 400.72,1514.64 401.19,1514.45 401.66,1514.26 402.12,1514.07 402.59,1513.88 403.06,1513.70 403.53,1513.51 403.99,1513.33 404.46,1513.15 404.93,1512.97 405.40,1512.79 405.86,1512.61 406.33,1512.44 406.80,1512.26 407.27,1512.09 407.73,1511.92 408.20,1511.75 408.67,1511.59 409.14,1511.42 409.60,1511.26 410.07,1511.09 410.54,1510.93 411.01,1510.77 411.47,1510.61 411.94,1510.46 412.41,1510.30 412.88,1510.15 413.34,1510.00 413.81,1509.85 414.28,1509.70 414.75,1509.55 415.21,1509.40 415.68,1509.26 416.15,1509.12 416.62,1508.98 417.08,1508.84 417.55,1508.70 418.02,1508.56 418.49,1508.42 418.95,1508.29 419.42,1508.16 419.89,1508.03 420.36,1507.90 420.82,1507.77 421.29,1507.64 421.76,1507.52 422.23,1507.39 422.69,1507.27 423.16,1507.15 423.63,1507.03 424.10,1506.91 424.56,1506.79 425.03,1506.68 425.50,1506.56 425.97,1506.45 426.43,1506.34 426.90,1506.23 427.37,1506.12 427.84,1506.01 428.30,1505.91 428.77,1505.80 429.24,1505.70 429.71,1505.60 430.17,1505.50 430.64,1505.40 431.11,1505.30 431.58,1505.20 432.04,1505.11 432.51,1505.01 432.98,1504.92 433.45,1504.83 433.91,1504.74 434.38,1504.65 434.85,1504.57 435.32,1504.48 435.78,1504.39 436.25,1504.31 436.72,1504.23 437.19,1504.15 437.65,1504.07 438.12,1503.99 438.59,1503.91 439.06,1503.84 439.52,1503.76 439.99,1503.69 440.46,1503.62 440.93,1503.55 441.39,1503.48 441.86,1503.41 442.33,1503.34 442.80,1503.28 443.26,1503.21 443.73,1503.15 444.20,1503.09 444.67,1503.02 445.13,1502.97 445.60,1502.91 446.07,1502.85 446.54,1502.79 447.00,1502.74 447.47,1502.68 447.94,1502.63 448.41,1502.58 448.87,1502.53 449.34,1502.48 449.81,1502.43 450.28,1502.39 450.74,1502.34 451.21,1502.29 451.68,1502.25 452.15,1502.21 452.61,1502.17 453.08,1502.13 453.08,1494.58 456.20,1494.34 459.31,1494.15 462.43,1494.01 465.55,1493.92 468.66,1493.88 471.78,1493.88 474.90,1493.93 478.01,1494.03 481.13,1494.17 484.25,1494.36 487.36,1494.60 490.48,1494.88 493.60,1495.21 496.71,1495.58 499.83,1496.00 502.95,1496.46 506.06,1496.97 509.18,1497.53 512.30,1498.12 515.41,1498.77 518.53,1499.45 521.64,1500.18 524.76,1500.95 527.88,1501.76 530.99,1502.62 534.11,1503.51 537.23,1504.44 540.34,1505.41 543.46,1506.41 546.58,1507.45 549.69,1508.52 552.81,1509.62 555.93,1510.75 559.04,1511.91 562.16,1513.10 565.28,1514.31 568.39,1515.55 571.51,1516.82 574.63,1518.10 577.74,1519.40 580.86,1520.73 583.98,1522.06 587.09,1523.42 590.21,1524.79 593.33,1526.18 596.44,1527.57 599.56,1528.98 602.68,1530.40 605.79,1531.83 608.91,1533.27 612.03,1534.72 615.14,1536.17 618.26,1537.63 621.38,1539.10 624.49,1540.57 627.61,1542.05 630.73,1543.53 633.84,1545.01 636.96,1546.50 640.07,1547.98 643.19,1549.48 646.31,1550.97 649.42,1552.46 652.54,1553.96 655.66,1555.46 658.77,1556.95 661.89,1558.45 665.01,1559.95 668.12,1561.45 671.24,1562.95 674.36,1564.45 677.47,1565.95 680.59,1567.45 683.71,1568.95 686.82,1570.45 689.94,1571.94 693.06,1573.44 696.17,1574.94 699.29,1576.44 702.41,1577.93 705.52,1579.43 708.64,1580.92 711.76,1582.41 714.87,1583.91 717.99,1585.40 721.11,1586.89 724.22,1588.38 727.34,1589.87 730.46,1591.36 733.57,1592.85 736.69,1594.33 739.81,1595.82 742.92,1597.31 746.04,1598.79 749.16,1600.28 752.27,1601.76 755.39,1603.24 758.51,1604.73 761.62,1606.21 764.74,1607.69 767.85,1609.17 770.97,1610.65 774.09,1612.13 777.20,1613.61 780.32,1615.09 783.44,1616.57 786.55,1618.05 789.67,1619.52 792.79,1621.00 795.90,1622.48 799.02,1623.95 802.14,1625.43 805.25,1626.90 808.37,1628.38 811.49,1629.85 814.60,1631.33 817.72,1632.80 820.84,1634.28 823.95,1635.75 827.07,1637.22 830.19,1638.70 833.30,1640.17 836.42,1641.64 839.54,1643.11 842.65,1644.59 845.77,1646.06 848.89,1647.53 852.00,1649.00 855.12,1650.47 858.24,1651.94 861.35,1653.42 864.47,1654.89 867.59,1656.36 870.70,1657.83 873.82,1659.30 876.94,1660.77 880.05,1662.24 883.17,1663.71 886.29,1665.18 889.40,1666.65 892.52,1668.12 895.63,1669.60 898.75,1671.07 901.87,1672.54 904.98,1674.01 908.10,1675.48 911.22,1676.95 914.33,1678.43 917.45,1679.90 920.57,1681.37 923.68,1682.84 926.80,1684.32 929.92,1685.79 933.03,1687.27 936.15,1688.74 939.27,1690.22 942.38,1691.69 945.50,1693.17 948.62,1694.65 951.73,1696.13 954.85,1697.61 957.97,1699.09 961.08,1700.57 964.20,1702.06 967.32,1703.55 970.43,1705.03 973.55,1706.52 976.67,1708.02 979.78,1709.51 982.90,1711.01 986.02,1712.51 989.13,1714.01 992.25,1715.52 995.37,1717.03 998.48,1718.54 1001.60,1720.06 1004.72,1721.58 1007.83,1723.11 1010.95,1724.65 1014.06,1726.19 1017.18,1727.74 1020.30,1729.29 1023.41,1730.86 1026.53,1732.43 1029.65,1734.01 1032.76,1735.61 1035.88,1737.21 1039.00,1738.83 1042.11,1740.46 1045.23,1742.11 1048.35,1743.78 1051.46,1745.46 1054.58,1747.16 1057.70,1748.88 1060.81,1750.62 1063.93,1752.39 1067.05,1754.19 1070.16,1756.01 1073.28,1757.86 1073.28,1765.41 1073.75,1765.69 1074.21,1765.98 1074.68,1766.26 1075.15,1766.54 1075.62,1766.82 1076.08,1767.11 1076.55,1767.39 1077.02,1767.68 1077.49,1767.96 1077.95,1768.25 1078.42,1768.54 1078.89,1768.83 1079.36,1769.12 1079.82,1769.41 1080.29,1769.70 1080.76,1769.99 1081.23,1770.29 1081.69,1770.58 1082.16,1770.87 1082.63,1771.17 1083.10,1771.47 1083.56,1771.76 1084.03,1772.06 1084.50,1772.36 1084.97,1772.66 1085.43,1772.96 1085.90,1773.27 1086.37,1773.57 1086.84,1773.87 1087.30,1774.18 1087.77,1774.48 1088.24,1774.79 1088.71,1775.10 1089.17,1775.41 1089.64,1775.71 1090.11,1776.03 1090.58,1776.34 1091.04,1776.65 1091.51,1776.96 1091.98,1777.28 1092.45,1777.59 1092.91,1777.91 1093.38,1778.23 1093.85,1778.55 1094.32,1778.87 1094.78,1779.19 1095.25,1779.51 1095.72,1779.83 1096.19,1780.16 1096.65,1780.48 1097.12,1780.81 1097.59,1781.14 1098.06,1781.47 1098.52,1781.80 1098.99,1782.13 1099.46,1782.46 1099.93,1782.79 1100.39,1783.13 1100.86,1783.46 1101.33,1783.80 1101.80,1784.14 1102.26,1784.48 1102.73,1784.82 1103.20,1785.16 1103.67,1785.50 1104.13,1785.85 1104.60,1786.19 1105.07,1786.54 1105.54,1786.89 1106.00,1787.24 1106.47,1787.59 1106.94,1787.94 1107.41,1788.29 1107.87,1788.64 1108.34,1789.00 1108.81,1789.36 1109.28,1789.72 1109.74,1790.08 1110.21,1790.44 1110.68,1790.80 1111.15,1791.16 1111.61,1791.53 1112.08,1791.89 1112.55,1792.26 1113.02,1792.63 1113.48,1793.00 1113.95,1793.37 1114.42,1793.74 1114.89,1794.12 1115.35,1794.50 1115.82,1794.87 1116.29,1795.25 1116.76,1795.63 1117.22,1796.01 1117.69,1796.40 1118.16,1796.78 1118.63,1797.17 1119.09,1797.55 1119.56,1797.94 1120.03,1798.33 1120.50,1798.72 1120.96,1799.12 1121.43,1799.51 1121.90,1799.91 1122.37,1800.30 1122.83,1800.70 1123.30,1801.10 1123.77,1801.51 1124.24,1801.91 1124.70,1802.31 1125.17,1802.72 1125.64,1803.13 1126.11,1803.54 1126.57,1803.95 1127.04,1804.36 1127.51,1804.77 1127.98,1805.19 1128.44,1805.61 1128.91,1806.03 1129.38,1806.44 1129.85,1806.87 1130.31,1807.29 1130.78,1807.71 1131.25,1808.14 1131.72,1808.57 1132.18,1809.00 1132.65,1809.43 1133.12,1809.86 1133.59,1810.29 1134.05,1810.73 1134.52,1811.16 1134.99,1811.60 1135.46,1812.04 1135.92,1812.48 1136.39,1812.93 1136.86,1813.37 1137.33,1813.82 1137.79,1814.26 1138.26,1814.71 1138.73,1815.16 1139.20,1815.61 1139.66,1816.07 1140.13,1816.52 1140.60,1816.98 1141.07,1817.44 1141.53,1817.90 1142.00,1818.36 1142.47,1818.82 1142.94,1819.28 1143.40,1819.75 1143.87,1820.22 1144.34,1820.68 1144.81,1821.15 1145.27,1821.63 1145.74,1822.10 1146.21,1822.57 1146.68,1823.05 1147.14,1823.53 1147.61,1824.01 1148.08,1824.49 1148.55,1824.97 1149.01,1825.45 1149.48,1825.94 1149.95,1826.42 1150.42,1826.91 1150.88,1827.40 1151.35,1827.89 1151.82,1828.38 1152.29,1828.88 1152.75,1829.37 1153.22,1829.87 1153.69,1830.36 1154.16,1830.86 1154.62,1831.36 1155.09,1831.87 1155.56,1832.37 1156.03,1832.87 1156.49,1833.38 1156.96,1833.89 1157.43,1834.40 1157.90,1834.91 1158.36,1835.42 1158.83,1835.93 1159.30,1836.45 1159.77,1836.96 1160.23,1837.48 1160.70,1838.00 1161.17,1838.52 1161.64,1839.04 1162.10,1839.56 1162.57,1840.09 1163.04,1840.61 1163.51,1841.14 1163.97,1841.67 1164.44,1842.19 1164.91,1842.72 1165.38,1843.26 1165.84,1843.79 1166.31,1844.32 1166.31,2066.80" fill="none" stroke="#111" stroke-width="1.6" stroke-linejoin="miter"/><polyline points="205.00,1658.86 207.08,1656.90 209.17,1654.94 211.25,1652.98 213.34,1651.03 215.42,1649.07 217.51,1647.11 219.59,1645.16 221.68,1643.20 223.76,1641.25 225.85,1639.29 227.93,1637.34 230.02,1635.39 232.10,1633.44 234.19,1631.49 236.27,1629.54 238.36,1627.59 240.44,1625.64 242.52,1623.69 244.61,1621.75 246.69,1619.80 248.78,1617.86 250.86,1615.92 252.95,1613.98 255.03,1612.04 257.12,1610.11 259.20,1608.17 261.29,1606.24 263.37,1604.31 265.46,1602.38 267.54,1600.46 269.63,1598.53 271.71,1596.61 273.80,1594.70 275.88,1592.78 277.96,1590.87 280.05,1588.97 282.13,1587.06 284.22,1585.16 286.30,1583.27 288.39,1581.38 290.47,1579.49 292.56,1577.61 294.64,1575.74 296.73,1573.87 298.81,1572.01 300.90,1570.15 302.98,1568.30 305.07,1566.46 307.15,1564.62 309.24,1562.80 311.32,1560.98 313.40,1559.17 315.49,1557.37 317.57,1555.58 319.66,1553.80 321.74,1552.04 323.83,1550.28 325.91,1548.54 328.00,1546.81 330.08,1545.09 332.17,1543.39 334.25,1541.70 336.34,1540.02 338.42,1538.37 340.51,1536.73 342.59,1535.11 344.68,1533.50 346.76,1531.92 348.84,1530.35 350.93,1528.81 353.01,1527.29 355.10,1525.78 357.18,1524.31 359.27,1522.85 361.35,1521.42 363.44,1520.02 365.52,1518.64 367.61,1517.28 369.69,1515.96 371.78,1514.66 373.86,1513.39 375.95,1512.15 378.03,1510.93 380.12,1509.75 382.20,1508.60 384.28,1507.47 386.37,1506.38 388.45,1505.32 390.54,1504.29 392.62,1503.29 394.71,1502.32 396.79,1501.38 398.88,1500.48 400.96,1499.61 403.05,1498.77 405.13,1497.95 407.22,1497.18 409.30,1496.43 411.39,1495.71 413.47,1495.02 415.56,1494.36 417.64,1493.73 419.72,1493.14 421.81,1492.57 423.89,1492.02 425.98,1491.51 428.06,1491.02 430.15,1490.57 432.23,1490.13 434.32,1489.73 436.40,1489.35 438.49,1488.99 440.57,1488.66 442.66,1488.36 444.74,1488.08 446.83,1487.82 448.91,1487.59 451.00,1487.38 453.08,1487.19" fill="none" stroke="#111" stroke-width="3.4"/><polyline points="205.00,1644.21 207.08,1642.25 209.17,1640.30 211.25,1638.34 213.34,1636.38 215.42,1634.43 217.51,1632.47 219.59,1630.51 221.68,1628.56 223.76,1626.60 225.85,1624.65 227.93,1622.70 230.02,1620.74 232.10,1618.79 234.19,1616.84 236.27,1614.89 238.36,1612.94 240.44,1611.00 242.52,1609.05 244.61,1607.10 246.69,1605.16 248.78,1603.22 250.86,1601.28 252.95,1599.34 255.03,1597.40 257.12,1595.46 259.20,1593.53 261.29,1591.60 263.37,1589.66 265.46,1587.74 267.54,1585.81 269.63,1583.89 271.71,1581.97 273.80,1580.05 275.88,1578.14 277.96,1576.23 280.05,1574.32 282.13,1572.42 284.22,1570.52 286.30,1568.62 288.39,1566.73 290.47,1564.85 292.56,1562.97 294.64,1561.09 296.73,1559.23 298.81,1557.36 300.90,1555.51 302.98,1553.66 305.07,1551.82 307.15,1549.98 309.24,1548.15 311.32,1546.34 313.40,1544.53 315.49,1542.73 317.57,1540.94 319.66,1539.16 321.74,1537.39 323.83,1535.64 325.91,1533.89 328.00,1532.16 330.08,1530.44 332.17,1528.74 334.25,1527.05 336.34,1525.38 338.42,1523.72 340.51,1522.08 342.59,1520.46 344.68,1518.86 346.76,1517.27 348.84,1515.71 350.93,1514.16 353.01,1512.64 355.10,1511.14 357.18,1509.66 359.27,1508.21 361.35,1506.78 363.44,1505.37 365.52,1503.99 367.61,1502.64 369.69,1501.31 371.78,1500.01 373.86,1498.74 375.95,1497.50 378.03,1496.29 380.12,1495.10 382.20,1493.95 384.28,1492.83 386.37,1491.74 388.45,1490.67 390.54,1489.64 392.62,1488.64 394.71,1487.68 396.79,1486.74 398.88,1485.84 400.96,1484.96 403.05,1484.12 405.13,1483.31 407.22,1482.53 409.30,1481.78 411.39,1481.06 413.47,1480.38 415.56,1479.72 417.64,1479.09 419.72,1478.49 421.81,1477.92 423.89,1477.38 425.98,1476.87 428.06,1476.38 430.15,1475.92 432.23,1475.49 434.32,1475.08 436.40,1474.70 438.49,1474.35 440.57,1474.02 442.66,1473.72 444.74,1473.43 446.83,1473.18 448.91,1472.95 451.00,1472.73 453.08,1472.55" fill="none" stroke="#111" stroke-width="2.0"/><polyline points="360.05,1537.25 361.23,1536.44 362.41,1535.65 363.58,1534.86 364.76,1534.07 365.94,1533.30 367.12,1532.54 368.29,1531.78 369.47,1531.03 370.65,1530.29 371.83,1529.56 373.00,1528.84 374.18,1528.13 375.36,1527.43 376.54,1526.73 377.71,1526.05 378.89,1525.38 380.07,1524.71 381.25,1524.06 382.42,1523.41 383.60,1522.77 384.78,1522.15 385.96,1521.53 387.13,1520.92 388.31,1520.33 389.49,1519.74 390.67,1519.16 391.85,1518.59 393.02,1518.04 394.20,1517.49 395.38,1516.95 396.56,1516.43 397.73,1515.91 398.91,1515.40 400.09,1514.91 401.27,1514.42 402.44,1513.94 403.62,1513.48 404.80,1513.02 405.98,1512.57 407.15,1512.13 408.33,1511.71 409.51,1511.29 410.69,1510.88 411.86,1510.48 413.04,1510.10 414.22,1509.72 415.40,1509.35 416.57,1508.99 417.75,1508.64 418.93,1508.30 420.11,1507.97 421.28,1507.64 422.46,1507.33 423.64,1507.02 424.82,1506.73 426.00,1506.44 427.17,1506.17 428.35,1505.90 429.53,1505.64 430.71,1505.38 431.88,1505.14 433.06,1504.91 434.24,1504.68 435.42,1504.46 436.59,1504.25 437.77,1504.05 438.95,1503.85 440.13,1503.67 441.30,1503.49 442.48,1503.32 443.66,1503.16 444.84,1503.00 446.01,1502.86 447.19,1502.72 448.37,1502.58 449.55,1502.46 450.72,1502.34 451.90,1502.23 453.08,1502.13" fill="none" stroke="#111" stroke-width="2.2"/><line x1="360.05" y1="1538.36" x2="360.05" y2="1920.90" stroke="#111" stroke-width="3.3"/><line x1="1167.21" y1="1537.93" x2="1167.21" y2="1920.90" stroke="#111" stroke-width="2.4"/></g>
<rect x="1092" y="1588" width="22" height="40" fill="#fff"/>
<rect x="1219" y="1717" width="19" height="39" fill="#fff"/><rect x="1210" y="1729" width="33" height="5" fill="#fff"/>
<polyline points="1113.3,1621.9 1087.8,1621.9 1051.8,1736" fill="none" stroke="#111" stroke-width="2.4"/>
<polyline points="1215.9,1749.3 1237.4,1749.3 1300.3,1641.7" fill="none" stroke="#111" stroke-width="2.4"/>
<text x="1101.50" y="1618.20" font-size="33" text-anchor="middle" font-style="italic">2</text>
<text x="1227.50" y="1746.20" font-size="33" text-anchor="middle" font-style="italic">1</text>
<text x="185.00" y="1311.20" font-size="24" text-anchor="middle" font-style="italic">Y</text>
<text x="1413.50" y="1945.60" font-size="24" text-anchor="middle" font-style="italic">X</text>
<text x="201.40" y="1342.90" font-size="24" text-anchor="end">10</text>
<text x="200.60" y="1489.60" font-size="24" text-anchor="end">1</text>
<text x="200.60" y="1635.50" font-size="24" text-anchor="end">0,1</text>
<text x="200.60" y="1781.40" font-size="24" text-anchor="end">0,01</text>
<text x="200.60" y="1928.10" font-size="24" text-anchor="end">0,001</text>
<text x="236.61" y="1945.80" font-size="24" text-anchor="middle">0,125</text>
<text x="329.64" y="1945.80" font-size="24" text-anchor="middle">0,25</text>
<text x="422.67" y="1945.80" font-size="24" text-anchor="middle">0,5</text>
<text x="515.70" y="1945.80" font-size="24" text-anchor="middle">1</text>
<text x="608.73" y="1945.80" font-size="24" text-anchor="middle">2</text>
<text x="701.76" y="1945.80" font-size="24" text-anchor="middle">4</text>
<text x="794.79" y="1945.80" font-size="24" text-anchor="middle">8</text>
<text x="887.82" y="1945.80" font-size="24" text-anchor="middle">16</text>
<text x="980.85" y="1945.80" font-size="24" text-anchor="middle">31,5</text>
<text x="1073.88" y="1945.80" font-size="24" text-anchor="middle">63</text>
<text x="1166.91" y="1945.80" font-size="24" text-anchor="middle">125</text>
<text x="1259.94" y="1945.80" font-size="24" text-anchor="middle">250</text>
<text x="1352.97" y="1945.80" font-size="24" text-anchor="middle">500</text>
</g>
</svg>
</body></html>
